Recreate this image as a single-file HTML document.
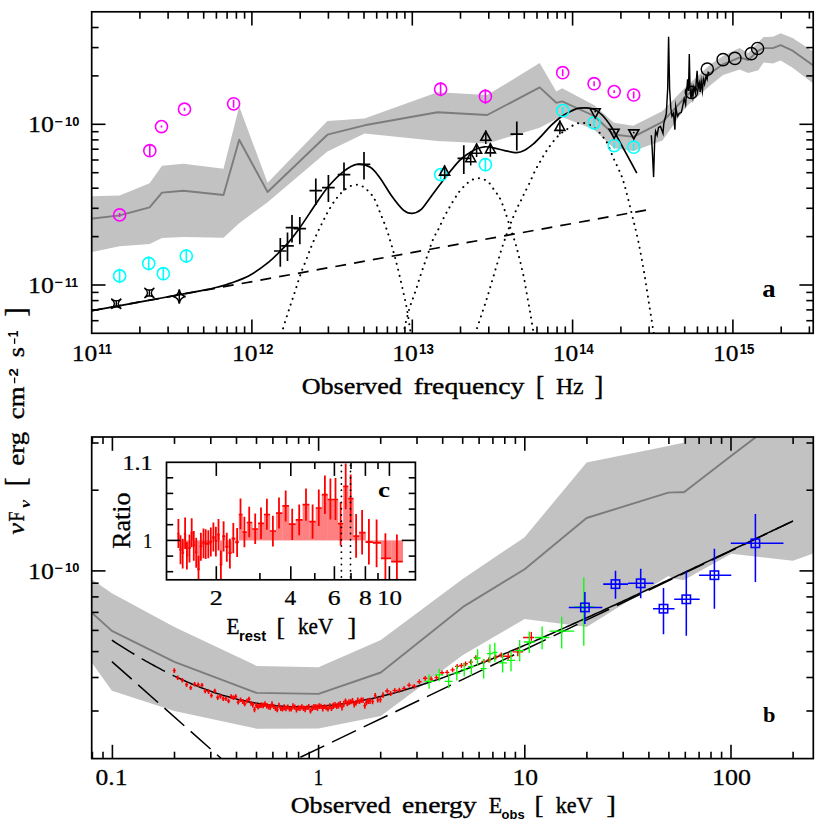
<!DOCTYPE html><html><head><meta charset="utf-8"><style>html,body{margin:0;padding:0;background:#fff}svg{display:block}</style></head><body><svg width="830" height="821" viewBox="0 0 830 821">
<rect width="830" height="821" fill="#fff"/>
<clipPath id="ct"><rect x="91.7" y="11.8" width="721.5" height="321.5"/></clipPath>
<g clip-path="url(#ct)">
<polygon points="90.0,196.4 119.6,195.4 149.6,183.3 162.0,165.8 183.5,163.8 223.5,168.7 239.2,106.5 267.6,182.8 327.4,121.0 364.5,118.5 437.5,92.2 487.2,95.1 539.7,63.0 556.3,91.6 562.2,88.3 594.3,105.3 613.8,122.8 633.3,125.8 662.5,111.1 685.9,86.8 710.7,64.3 723.0,56.0 739.7,48.1 748.2,53.3 758.4,42.2 763.6,37.1 772.9,36.7 780.6,33.3 792.6,37.9 814.0,52.0 814.0,84.0 792.6,67.8 780.6,60.6 772.9,63.5 763.6,62.6 758.4,70.3 748.2,72.9 739.7,69.5 723.0,75.0 710.7,85.0 685.9,107.0 662.5,140.4 633.3,151.1 613.8,148.2 594.3,129.7 562.2,117.0 556.3,118.9 539.7,127.7 487.2,143.4 437.5,140.9 364.5,133.5 327.4,151.6 267.6,202.3 239.2,223.2 223.5,237.7 183.5,236.9 162.0,238.1 149.6,243.9 119.6,246.3 90.0,252.5" fill="#c2c2c2" stroke="none" stroke-width="0"/>
<polyline points="90.0,218.8 119.6,215.4 149.6,207.3 162.0,192.6 183.5,190.7 223.5,195.0 239.2,139.7 267.6,192.0 327.4,134.7 364.5,125.3 437.5,112.2 487.2,115.0 539.7,87.4 556.3,102.8 562.2,101.4 594.3,116.0 613.8,134.5 633.3,136.9 662.5,121.9 685.9,96.5 710.7,72.9 723.0,64.3 739.7,57.5 748.2,60.0 758.4,50.7 763.6,48.1 772.9,48.1 780.6,45.2 792.6,50.7 814.0,66.0" fill="none" stroke="#7c7c7c" stroke-width="1.9" stroke-linejoin="round"/>
<path d="M281.5,334.0 C281.9,332.8 282.3,330.8 283.6,326.6 C284.9,322.4 287.4,314.5 289.3,308.6 C291.2,302.8 293.1,297.4 295.0,291.5 C296.9,285.6 298.7,279.4 300.8,273.5 C302.9,267.6 305.9,260.8 307.7,256.0 C309.5,251.2 310.4,248.7 311.9,245.0 C313.4,241.3 315.1,237.7 316.8,234.0 C318.5,230.3 320.4,226.6 322.2,222.9 C324.0,219.2 325.8,215.6 327.8,212.0 C329.8,208.4 332.4,204.1 334.1,201.5 C335.8,198.9 336.7,198.2 338.0,196.6 C339.3,195.0 340.6,193.5 342.1,192.1 C343.6,190.7 345.1,189.3 346.8,188.2 C348.5,187.1 350.2,186.1 352.1,185.5 C354.0,184.9 356.1,184.5 358.0,184.7 C359.9,184.9 361.7,185.8 363.4,186.9 C365.1,188.0 366.7,189.6 368.2,191.1 C369.7,192.6 371.4,194.3 372.6,196.0 C373.8,197.7 374.2,198.3 375.5,201.1 C376.8,203.9 378.4,208.3 380.2,212.8 C382.0,217.3 384.3,222.8 386.2,228.1 C388.1,233.3 389.7,239.0 391.3,244.3 C392.9,249.6 394.2,254.3 395.6,259.7 C397.0,265.1 398.4,270.7 399.8,276.7 C401.2,282.7 402.8,289.5 404.1,295.5 C405.4,301.5 406.5,306.8 407.5,312.5 C408.5,318.2 409.6,325.9 410.1,329.6 C410.7,333.4 410.7,334.1 410.8,335.0" fill="none" stroke="#000" stroke-width="2.0" stroke-dasharray="0.1 6.05" stroke-linecap="round"/>
<path d="M403.2,334.0 C403.4,333.3 403.1,333.8 404.1,329.6 C405.1,325.5 407.4,315.4 409.2,309.1 C411.0,302.9 413.2,298.1 415.2,292.1 C417.2,286.1 419.2,279.3 421.2,273.3 C423.2,267.3 425.1,262.0 427.1,256.3 C429.1,250.6 431.2,243.8 433.1,239.2 C435.1,234.5 437.0,232.1 438.8,228.4 C440.6,224.7 442.3,220.6 444.2,216.9 C446.1,213.2 448.0,209.8 450.1,206.2 C452.2,202.6 454.9,198.1 456.6,195.5 C458.3,192.9 458.8,192.2 460.1,190.6 C461.4,189.0 462.7,187.7 464.2,186.2 C465.7,184.7 467.4,183.0 469.1,181.8 C470.8,180.6 472.5,179.5 474.4,178.9 C476.2,178.3 478.3,178.1 480.2,178.3 C482.1,178.6 484.3,179.4 486.0,180.4 C487.7,181.4 489.0,182.7 490.4,184.3 C491.8,185.9 493.0,188.3 494.3,190.2 C495.6,192.1 497.1,193.9 498.2,195.5 C499.3,197.1 499.6,197.4 500.7,200.0 C501.8,202.6 503.4,206.5 505.0,211.1 C506.6,215.7 508.4,222.1 510.1,227.3 C511.8,232.6 513.6,237.3 515.2,242.6 C516.8,247.8 518.1,253.1 519.5,258.8 C520.9,264.5 522.4,270.6 523.7,276.7 C525.0,282.8 526.0,289.2 527.1,295.5 C528.2,301.8 529.5,308.5 530.5,314.3 C531.5,320.1 532.6,327.1 533.1,330.5 C533.6,333.9 533.6,334.2 533.7,335.0" fill="none" stroke="#000" stroke-width="2.0" stroke-dasharray="0.1 6.05" stroke-linecap="round"/>
<path d="M475.2,334.0 C475.3,333.6 475.0,334.3 476.0,331.3 C477.0,328.3 479.4,321.1 481.1,316.0 C482.8,310.9 484.5,306.0 486.2,300.6 C487.9,295.2 489.6,289.3 491.3,283.6 C493.0,277.9 494.7,272.2 496.4,266.5 C498.1,260.8 499.8,254.9 501.5,249.5 C503.2,244.1 505.0,238.9 506.7,234.1 C508.4,229.3 510.1,224.8 511.8,220.5 C513.5,216.2 515.3,211.9 516.9,208.5 C518.5,205.1 519.9,202.6 521.2,200.0 C522.5,197.4 523.2,195.6 524.6,192.8 C526.0,190.0 527.8,186.8 529.5,183.1 C531.2,179.4 533.1,174.8 535.0,170.9 C536.9,167.0 539.0,163.6 541.1,159.9 C543.2,156.2 545.5,152.4 547.8,149.0 C550.1,145.6 552.8,141.9 555.1,139.2 C557.4,136.5 559.3,134.8 561.5,133.0 C563.7,131.2 566.3,129.7 568.5,128.3 C570.7,126.9 572.4,125.5 574.6,124.6 C576.8,123.7 579.3,122.7 581.9,122.8 C584.5,122.9 587.4,123.7 590.0,125.0 C592.6,126.3 595.4,128.5 597.7,130.7 C600.0,132.9 602.2,135.9 603.8,138.0 C605.4,140.1 605.7,140.0 607.4,143.5 C609.1,147.0 611.9,154.5 613.8,158.9 C615.7,163.3 617.3,166.0 619.0,170.0 C620.7,174.0 621.8,175.7 623.9,182.9 C626.0,190.1 629.2,203.2 631.6,213.1 C634.0,223.0 636.4,232.3 638.5,242.4 C640.6,252.5 642.5,263.1 644.3,273.5 C646.1,283.9 647.7,295.4 649.2,304.7 C650.7,314.0 652.3,324.1 653.1,329.1 C653.9,334.2 653.9,334.0 654.0,335.0" fill="none" stroke="#000" stroke-width="2.0" stroke-dasharray="0.1 6.05" stroke-linecap="round"/>
<line x1="91.7" y1="310.7" x2="647.8" y2="209.8" stroke="#000" stroke-width="1.7" stroke-dasharray="10.9 8.15"/>
<path d="M90.0,311.0 C95.0,310.1 110.0,307.4 120.0,305.6 C130.0,303.7 140.0,301.9 150.0,300.1 C160.0,298.3 170.8,296.4 180.0,294.7 C189.2,293.0 198.7,291.2 205.0,289.9 C211.3,288.6 213.8,288.1 218.0,287.0 C222.2,285.9 224.8,285.3 230.0,283.4 C235.2,281.5 243.0,279.1 249.5,275.5 C256.0,271.9 263.9,266.0 269.0,261.9 C274.1,257.8 277.1,254.3 280.3,251.1 C283.6,247.8 285.2,246.3 288.5,242.4 C291.8,238.5 295.2,234.1 299.8,227.7 C304.4,221.3 311.0,210.9 315.8,204.0 C320.6,197.1 323.7,192.0 328.4,186.5 C333.1,181.0 339.3,174.8 344.0,171.1 C348.7,167.4 352.3,165.0 356.7,164.3 C361.1,163.7 366.4,164.9 370.3,167.2 C374.2,169.5 376.4,173.1 380.0,177.9 C383.6,182.7 387.8,190.6 391.7,196.0 C395.6,201.4 400.0,207.2 403.4,210.1 C406.8,213.0 409.3,213.5 412.2,213.4 C415.1,213.3 417.9,212.3 420.9,209.7 C423.9,207.1 426.1,203.2 430.0,198.0 C433.9,192.8 439.7,184.7 444.6,178.5 C449.5,172.3 455.1,165.1 459.2,160.9 C463.3,156.7 466.1,155.1 469.0,153.1 C471.9,151.1 474.2,149.9 476.8,148.8 C479.4,147.8 481.8,147.0 484.6,146.8 C487.4,146.6 490.0,147.2 493.4,147.8 C496.8,148.4 500.8,149.8 504.7,150.6 C508.6,151.4 513.4,152.7 516.7,152.6 C520.0,152.5 521.9,151.6 524.6,150.2 C527.3,148.8 530.2,146.5 533.1,144.1 C536.0,141.7 538.7,138.8 541.7,135.6 C544.8,132.4 548.1,128.3 551.4,125.2 C554.6,122.1 558.0,119.0 561.2,116.7 C564.5,114.4 567.9,112.6 570.9,111.2 C573.9,109.8 575.6,108.6 579.2,108.2 C582.8,107.8 588.8,107.7 592.6,108.8 C596.4,109.9 598.9,111.8 602.1,115.0 C605.3,118.2 608.6,122.7 611.9,127.7 C615.1,132.7 618.4,139.3 621.6,145.2 C624.8,151.0 628.8,158.2 631.3,162.8 C633.8,167.5 635.9,171.4 636.8,173.1" fill="none" stroke="#000" stroke-width="1.7" />
<polyline points="651.3,135.2 652.1,146.9 653.6,177.1 654.6,143.0 655.6,131.3 657.1,135.2 658.5,127.4 660.5,126.5 663.0,133.3 663.8,123.5 666.3,113.8 667.7,88.5 668.6,36.8 669.6,88.5 670.8,108.0 672.0,116.2 673.5,113.3 674.9,129.8 675.7,106.5 677.4,116.2 679.3,113.3 681.3,112.3 682.2,108.4 684.2,98.7 685.6,104.5 686.6,92.8 687.6,79.2 688.5,90.9 689.3,53.9 690.0,87.0 691.0,98.7 692.0,89.0 692.9,96.7 693.9,87.0 695.4,92.8 697.1,70.9 698.1,89.0 699.3,83.1 700.2,91.9 701.2,81.2 702.4,90.9 703.4,79.2 704.6,84.1 706.1,75.8 707.1,79.2 708.2,72.4 709.5,73.4" fill="none" stroke="#000" stroke-width="1.45" stroke-linejoin="miter" stroke-miterlimit="10"/>
<circle cx="119.6" cy="214.9" r="6.05" fill="none" stroke="#ff00ff" stroke-width="1.6"/>
<line x1="119.6" y1="212.9" x2="119.6" y2="216.9" stroke="#ff00ff" stroke-width="1.6" />
<circle cx="149.8" cy="150.7" r="6.05" fill="none" stroke="#ff00ff" stroke-width="1.6"/>
<line x1="149.8" y1="144.5" x2="149.8" y2="156.9" stroke="#ff00ff" stroke-width="1.6" />
<circle cx="161.5" cy="126.6" r="6.05" fill="none" stroke="#ff00ff" stroke-width="1.6"/>
<line x1="161.5" y1="125.6" x2="161.5" y2="127.6" stroke="#ff00ff" stroke-width="1.6" />
<circle cx="184.5" cy="109.2" r="6.05" fill="none" stroke="#ff00ff" stroke-width="1.6"/>
<line x1="184.5" y1="107.7" x2="184.5" y2="110.7" stroke="#ff00ff" stroke-width="1.6" />
<circle cx="233.6" cy="103.8" r="6.05" fill="none" stroke="#ff00ff" stroke-width="1.6"/>
<line x1="233.6" y1="99.8" x2="233.6" y2="107.8" stroke="#ff00ff" stroke-width="1.6" />
<circle cx="440.6" cy="89.2" r="6.05" fill="none" stroke="#ff00ff" stroke-width="1.6"/>
<line x1="440.6" y1="82.2" x2="440.6" y2="96.2" stroke="#ff00ff" stroke-width="1.6" />
<circle cx="485.4" cy="96.4" r="6.05" fill="none" stroke="#ff00ff" stroke-width="1.6"/>
<line x1="485.4" y1="88.9" x2="485.4" y2="103.9" stroke="#ff00ff" stroke-width="1.6" />
<circle cx="562.7" cy="72.7" r="6.05" fill="none" stroke="#ff00ff" stroke-width="1.6"/>
<line x1="562.7" y1="69.2" x2="562.7" y2="76.2" stroke="#ff00ff" stroke-width="1.6" />
<circle cx="594.1" cy="83.7" r="6.05" fill="none" stroke="#ff00ff" stroke-width="1.6"/>
<line x1="594.1" y1="81.2" x2="594.1" y2="86.2" stroke="#ff00ff" stroke-width="1.6" />
<circle cx="614.2" cy="91.6" r="6.05" fill="none" stroke="#ff00ff" stroke-width="1.6"/>
<line x1="614.2" y1="90.3" x2="614.2" y2="92.9" stroke="#ff00ff" stroke-width="1.6" />
<circle cx="633.7" cy="95.0" r="6.05" fill="none" stroke="#ff00ff" stroke-width="1.6"/>
<line x1="633.7" y1="91.5" x2="633.7" y2="98.5" stroke="#ff00ff" stroke-width="1.6" />
<circle cx="119.6" cy="275.9" r="6.05" fill="none" stroke="#00ffff" stroke-width="1.6"/>
<line x1="119.6" y1="268.6" x2="119.6" y2="283.2" stroke="#00ffff" stroke-width="1.6" />
<circle cx="148.7" cy="263.4" r="6.05" fill="none" stroke="#00ffff" stroke-width="1.6"/>
<line x1="148.7" y1="256.4" x2="148.7" y2="270.4" stroke="#00ffff" stroke-width="1.6" />
<circle cx="163.3" cy="273.7" r="6.05" fill="none" stroke="#00ffff" stroke-width="1.6"/>
<line x1="163.3" y1="267.2" x2="163.3" y2="280.2" stroke="#00ffff" stroke-width="1.6" />
<circle cx="186.3" cy="256.0" r="6.05" fill="none" stroke="#00ffff" stroke-width="1.6"/>
<line x1="186.3" y1="249.0" x2="186.3" y2="263.0" stroke="#00ffff" stroke-width="1.6" />
<circle cx="440.7" cy="174.6" r="6.05" fill="none" stroke="#00ffff" stroke-width="1.6"/>
<line x1="440.7" y1="169.6" x2="440.7" y2="179.6" stroke="#00ffff" stroke-width="1.6" />
<circle cx="485.4" cy="164.7" r="6.05" fill="none" stroke="#00ffff" stroke-width="1.6"/>
<line x1="485.4" y1="158.2" x2="485.4" y2="171.2" stroke="#00ffff" stroke-width="1.6" />
<circle cx="562.7" cy="110.6" r="6.05" fill="none" stroke="#00ffff" stroke-width="1.6"/>
<line x1="562.7" y1="107.1" x2="562.7" y2="114.1" stroke="#00ffff" stroke-width="1.6" />
<circle cx="594.1" cy="122.8" r="6.05" fill="none" stroke="#00ffff" stroke-width="1.6"/>
<line x1="594.1" y1="118.8" x2="594.1" y2="126.8" stroke="#00ffff" stroke-width="1.6" />
<circle cx="614.2" cy="145.6" r="6.05" fill="none" stroke="#00ffff" stroke-width="1.6"/>
<line x1="614.2" y1="142.6" x2="614.2" y2="148.6" stroke="#00ffff" stroke-width="1.6" />
<circle cx="633.7" cy="147.2" r="6.05" fill="none" stroke="#00ffff" stroke-width="1.6"/>
<line x1="633.7" y1="143.7" x2="633.7" y2="150.7" stroke="#00ffff" stroke-width="1.6" />
<line x1="274.0" y1="251.0" x2="286.6" y2="251.0" stroke="#000" stroke-width="1.7" />
<line x1="280.3" y1="238.1" x2="280.3" y2="266.7" stroke="#000" stroke-width="1.7" />
<line x1="281.2" y1="245.8" x2="293.8" y2="245.8" stroke="#000" stroke-width="1.7" />
<line x1="287.5" y1="232.6" x2="287.5" y2="260.9" stroke="#000" stroke-width="1.7" />
<line x1="285.7" y1="227.7" x2="298.3" y2="227.7" stroke="#000" stroke-width="1.7" />
<line x1="292.0" y1="215.1" x2="292.0" y2="242.4" stroke="#000" stroke-width="1.7" />
<line x1="293.5" y1="228.6" x2="306.1" y2="228.6" stroke="#000" stroke-width="1.7" />
<line x1="299.8" y1="217.0" x2="299.8" y2="244.3" stroke="#000" stroke-width="1.7" />
<line x1="309.5" y1="190.6" x2="322.1" y2="190.6" stroke="#000" stroke-width="1.7" />
<line x1="315.8" y1="178.5" x2="315.8" y2="205.0" stroke="#000" stroke-width="1.7" />
<line x1="322.1" y1="187.7" x2="334.7" y2="187.7" stroke="#000" stroke-width="1.7" />
<line x1="328.4" y1="175.0" x2="328.4" y2="202.0" stroke="#000" stroke-width="1.7" />
<line x1="337.7" y1="174.6" x2="350.3" y2="174.6" stroke="#000" stroke-width="1.7" />
<line x1="344.0" y1="162.4" x2="344.0" y2="190.6" stroke="#000" stroke-width="1.7" />
<line x1="357.7" y1="164.3" x2="370.3" y2="164.3" stroke="#000" stroke-width="1.7" />
<line x1="364.0" y1="152.0" x2="364.0" y2="179.5" stroke="#000" stroke-width="1.7" />
<line x1="457.5" y1="158.4" x2="470.1" y2="158.4" stroke="#000" stroke-width="1.7" />
<line x1="463.8" y1="145.2" x2="463.8" y2="174.0" stroke="#000" stroke-width="1.7" />
<line x1="510.5" y1="134.1" x2="523.1" y2="134.1" stroke="#000" stroke-width="1.7" />
<line x1="516.8" y1="121.4" x2="516.8" y2="150.6" stroke="#000" stroke-width="1.7" />
<polygon points="439.6,175.1 449.6,175.1 444.6,166.1" fill="none" stroke="#000" stroke-width="1.6"/>
<line x1="444.6" y1="165.3" x2="444.6" y2="178.9" stroke="#000" stroke-width="1.5" />
<polygon points="465.7,161.7 475.7,161.7 470.7,152.7" fill="none" stroke="#000" stroke-width="1.6"/>
<line x1="470.7" y1="151.9" x2="470.7" y2="165.5" stroke="#000" stroke-width="1.5" />
<polygon points="471.6,153.2 481.6,153.2 476.6,144.2" fill="none" stroke="#000" stroke-width="1.6"/>
<line x1="476.6" y1="143.4" x2="476.6" y2="157.0" stroke="#000" stroke-width="1.5" />
<polygon points="480.8,140.3 490.8,140.3 485.8,131.3" fill="none" stroke="#000" stroke-width="1.6"/>
<line x1="485.8" y1="130.5" x2="485.8" y2="144.1" stroke="#000" stroke-width="1.5" />
<polygon points="485.4,152.9 495.4,152.9 490.4,143.9" fill="none" stroke="#000" stroke-width="1.6"/>
<line x1="490.4" y1="143.1" x2="490.4" y2="156.7" stroke="#000" stroke-width="1.5" />
<polygon points="554.9,130.4 564.9,130.4 559.9,121.4" fill="none" stroke="#000" stroke-width="1.6"/>
<line x1="559.9" y1="120.6" x2="559.9" y2="134.2" stroke="#000" stroke-width="1.5" />
<polygon points="590.2,108.8 600.2,108.8 595.2,117.9" fill="none" stroke="#000" stroke-width="1.6"/>
<circle cx="595.2" cy="111.60000000000001" r="0.9" fill="#000"/>
<polygon points="609.1,129.2 619.1,129.2 614.1,138.3" fill="none" stroke="#000" stroke-width="1.6"/>
<circle cx="614.1" cy="132.0" r="0.9" fill="#000"/>
<polygon points="628.8,129.9 638.8,129.9 633.8,139.0" fill="none" stroke="#000" stroke-width="1.6"/>
<circle cx="633.8" cy="132.7" r="0.9" fill="#000"/>
<path d="M111.3,298.8 Q116.3,303.2 121.3,298.8 Q115.1,303.8 121.3,308.8 Q116.3,304.40000000000003 111.3,308.8 Q117.5,303.8 111.3,298.8Z" fill="none" stroke="#000" stroke-width="1.5" stroke-linejoin="bevel"/>
<line x1="116.3" y1="300.6" x2="116.3" y2="307.0" stroke="#000" stroke-width="1.4" />
<path d="M144.4,288.0 Q149.4,292.4 154.4,288.0 Q148.20000000000002,293 154.4,298.0 Q149.4,293.6 144.4,298.0 Q150.6,293 144.4,288.0Z" fill="none" stroke="#000" stroke-width="1.5" stroke-linejoin="bevel"/>
<line x1="149.4" y1="289.8" x2="149.4" y2="296.2" stroke="#000" stroke-width="1.4" />
<path d="M179.3,289.7 Q180.3,295.5 185.60000000000002,296.5 Q180.3,297.5 179.3,303.3 Q178.3,297.5 173.0,296.5 Q178.3,295.5 179.3,289.7Z" fill="none" stroke="#000" stroke-width="1.6"/>
<line x1="179.3" y1="289.5" x2="179.3" y2="303.5" stroke="#000" stroke-width="1.4" />
<circle cx="691.4" cy="92.4" r="6.1" fill="none" stroke="#000" stroke-width="1.4"/>
<circle cx="707.3" cy="69.1" r="6.1" fill="none" stroke="#000" stroke-width="1.4"/>
<circle cx="723.1" cy="59.6" r="6.1" fill="none" stroke="#000" stroke-width="1.4"/>
<circle cx="734.9" cy="58.4" r="6.1" fill="none" stroke="#000" stroke-width="1.4"/>
<circle cx="751.3" cy="53.6" r="6.1" fill="none" stroke="#000" stroke-width="1.4"/>
<circle cx="757.6" cy="48.5" r="6.1" fill="none" stroke="#000" stroke-width="1.4"/>
</g>
<rect x="91.7" y="11.8" width="721.5" height="321.5" fill="none" stroke="#000" stroke-width="1.7"/>
<line x1="139.9" y1="11.8" x2="139.9" y2="18.7" stroke="#000" stroke-width="1.6" />
<line x1="139.9" y1="333.3" x2="139.9" y2="326.4" stroke="#000" stroke-width="1.6" />
<line x1="168.1" y1="11.8" x2="168.1" y2="18.7" stroke="#000" stroke-width="1.6" />
<line x1="168.1" y1="333.3" x2="168.1" y2="326.4" stroke="#000" stroke-width="1.6" />
<line x1="188.1" y1="11.8" x2="188.1" y2="18.7" stroke="#000" stroke-width="1.6" />
<line x1="188.1" y1="333.3" x2="188.1" y2="326.4" stroke="#000" stroke-width="1.6" />
<line x1="203.7" y1="11.8" x2="203.7" y2="18.7" stroke="#000" stroke-width="1.6" />
<line x1="203.7" y1="333.3" x2="203.7" y2="326.4" stroke="#000" stroke-width="1.6" />
<line x1="216.4" y1="11.8" x2="216.4" y2="18.7" stroke="#000" stroke-width="1.6" />
<line x1="216.4" y1="333.3" x2="216.4" y2="326.4" stroke="#000" stroke-width="1.6" />
<line x1="227.1" y1="11.8" x2="227.1" y2="18.7" stroke="#000" stroke-width="1.6" />
<line x1="227.1" y1="333.3" x2="227.1" y2="326.4" stroke="#000" stroke-width="1.6" />
<line x1="236.4" y1="11.8" x2="236.4" y2="18.7" stroke="#000" stroke-width="1.6" />
<line x1="236.4" y1="333.3" x2="236.4" y2="326.4" stroke="#000" stroke-width="1.6" />
<line x1="244.6" y1="11.8" x2="244.6" y2="18.7" stroke="#000" stroke-width="1.6" />
<line x1="244.6" y1="333.3" x2="244.6" y2="326.4" stroke="#000" stroke-width="1.6" />
<line x1="251.9" y1="11.8" x2="251.9" y2="25.6" stroke="#000" stroke-width="1.6" />
<line x1="251.9" y1="333.3" x2="251.9" y2="319.5" stroke="#000" stroke-width="1.6" />
<line x1="300.2" y1="11.8" x2="300.2" y2="18.7" stroke="#000" stroke-width="1.6" />
<line x1="300.2" y1="333.3" x2="300.2" y2="326.4" stroke="#000" stroke-width="1.6" />
<line x1="328.4" y1="11.8" x2="328.4" y2="18.7" stroke="#000" stroke-width="1.6" />
<line x1="328.4" y1="333.3" x2="328.4" y2="326.4" stroke="#000" stroke-width="1.6" />
<line x1="348.5" y1="11.8" x2="348.5" y2="18.7" stroke="#000" stroke-width="1.6" />
<line x1="348.5" y1="333.3" x2="348.5" y2="326.4" stroke="#000" stroke-width="1.6" />
<line x1="364.0" y1="11.8" x2="364.0" y2="18.7" stroke="#000" stroke-width="1.6" />
<line x1="364.0" y1="333.3" x2="364.0" y2="326.4" stroke="#000" stroke-width="1.6" />
<line x1="376.7" y1="11.8" x2="376.7" y2="18.7" stroke="#000" stroke-width="1.6" />
<line x1="376.7" y1="333.3" x2="376.7" y2="326.4" stroke="#000" stroke-width="1.6" />
<line x1="387.4" y1="11.8" x2="387.4" y2="18.7" stroke="#000" stroke-width="1.6" />
<line x1="387.4" y1="333.3" x2="387.4" y2="326.4" stroke="#000" stroke-width="1.6" />
<line x1="396.7" y1="11.8" x2="396.7" y2="18.7" stroke="#000" stroke-width="1.6" />
<line x1="396.7" y1="333.3" x2="396.7" y2="326.4" stroke="#000" stroke-width="1.6" />
<line x1="404.9" y1="11.8" x2="404.9" y2="18.7" stroke="#000" stroke-width="1.6" />
<line x1="404.9" y1="333.3" x2="404.9" y2="326.4" stroke="#000" stroke-width="1.6" />
<line x1="412.3" y1="11.8" x2="412.3" y2="25.6" stroke="#000" stroke-width="1.6" />
<line x1="412.3" y1="333.3" x2="412.3" y2="319.5" stroke="#000" stroke-width="1.6" />
<line x1="460.5" y1="11.8" x2="460.5" y2="18.7" stroke="#000" stroke-width="1.6" />
<line x1="460.5" y1="333.3" x2="460.5" y2="326.4" stroke="#000" stroke-width="1.6" />
<line x1="488.8" y1="11.8" x2="488.8" y2="18.7" stroke="#000" stroke-width="1.6" />
<line x1="488.8" y1="333.3" x2="488.8" y2="326.4" stroke="#000" stroke-width="1.6" />
<line x1="508.8" y1="11.8" x2="508.8" y2="18.7" stroke="#000" stroke-width="1.6" />
<line x1="508.8" y1="333.3" x2="508.8" y2="326.4" stroke="#000" stroke-width="1.6" />
<line x1="524.3" y1="11.8" x2="524.3" y2="18.7" stroke="#000" stroke-width="1.6" />
<line x1="524.3" y1="333.3" x2="524.3" y2="326.4" stroke="#000" stroke-width="1.6" />
<line x1="537.0" y1="11.8" x2="537.0" y2="18.7" stroke="#000" stroke-width="1.6" />
<line x1="537.0" y1="333.3" x2="537.0" y2="326.4" stroke="#000" stroke-width="1.6" />
<line x1="547.8" y1="11.8" x2="547.8" y2="18.7" stroke="#000" stroke-width="1.6" />
<line x1="547.8" y1="333.3" x2="547.8" y2="326.4" stroke="#000" stroke-width="1.6" />
<line x1="557.1" y1="11.8" x2="557.1" y2="18.7" stroke="#000" stroke-width="1.6" />
<line x1="557.1" y1="333.3" x2="557.1" y2="326.4" stroke="#000" stroke-width="1.6" />
<line x1="565.3" y1="11.8" x2="565.3" y2="18.7" stroke="#000" stroke-width="1.6" />
<line x1="565.3" y1="333.3" x2="565.3" y2="326.4" stroke="#000" stroke-width="1.6" />
<line x1="572.6" y1="11.8" x2="572.6" y2="25.6" stroke="#000" stroke-width="1.6" />
<line x1="572.6" y1="333.3" x2="572.6" y2="319.5" stroke="#000" stroke-width="1.6" />
<line x1="620.9" y1="11.8" x2="620.9" y2="18.7" stroke="#000" stroke-width="1.6" />
<line x1="620.9" y1="333.3" x2="620.9" y2="326.4" stroke="#000" stroke-width="1.6" />
<line x1="649.1" y1="11.8" x2="649.1" y2="18.7" stroke="#000" stroke-width="1.6" />
<line x1="649.1" y1="333.3" x2="649.1" y2="326.4" stroke="#000" stroke-width="1.6" />
<line x1="669.1" y1="11.8" x2="669.1" y2="18.7" stroke="#000" stroke-width="1.6" />
<line x1="669.1" y1="333.3" x2="669.1" y2="326.4" stroke="#000" stroke-width="1.6" />
<line x1="684.7" y1="11.8" x2="684.7" y2="18.7" stroke="#000" stroke-width="1.6" />
<line x1="684.7" y1="333.3" x2="684.7" y2="326.4" stroke="#000" stroke-width="1.6" />
<line x1="697.4" y1="11.8" x2="697.4" y2="18.7" stroke="#000" stroke-width="1.6" />
<line x1="697.4" y1="333.3" x2="697.4" y2="326.4" stroke="#000" stroke-width="1.6" />
<line x1="708.1" y1="11.8" x2="708.1" y2="18.7" stroke="#000" stroke-width="1.6" />
<line x1="708.1" y1="333.3" x2="708.1" y2="326.4" stroke="#000" stroke-width="1.6" />
<line x1="717.4" y1="11.8" x2="717.4" y2="18.7" stroke="#000" stroke-width="1.6" />
<line x1="717.4" y1="333.3" x2="717.4" y2="326.4" stroke="#000" stroke-width="1.6" />
<line x1="725.6" y1="11.8" x2="725.6" y2="18.7" stroke="#000" stroke-width="1.6" />
<line x1="725.6" y1="333.3" x2="725.6" y2="326.4" stroke="#000" stroke-width="1.6" />
<line x1="732.9" y1="11.8" x2="732.9" y2="25.6" stroke="#000" stroke-width="1.6" />
<line x1="732.9" y1="333.3" x2="732.9" y2="319.5" stroke="#000" stroke-width="1.6" />
<line x1="781.2" y1="11.8" x2="781.2" y2="18.7" stroke="#000" stroke-width="1.6" />
<line x1="781.2" y1="333.3" x2="781.2" y2="326.4" stroke="#000" stroke-width="1.6" />
<line x1="809.4" y1="11.8" x2="809.4" y2="18.7" stroke="#000" stroke-width="1.6" />
<line x1="809.4" y1="333.3" x2="809.4" y2="326.4" stroke="#000" stroke-width="1.6" />
<line x1="91.7" y1="320.7" x2="98.6" y2="320.7" stroke="#000" stroke-width="1.6" />
<line x1="813.2" y1="320.7" x2="806.3" y2="320.7" stroke="#000" stroke-width="1.6" />
<line x1="91.7" y1="309.9" x2="98.6" y2="309.9" stroke="#000" stroke-width="1.6" />
<line x1="813.2" y1="309.9" x2="806.3" y2="309.9" stroke="#000" stroke-width="1.6" />
<line x1="91.7" y1="300.6" x2="98.6" y2="300.6" stroke="#000" stroke-width="1.6" />
<line x1="813.2" y1="300.6" x2="806.3" y2="300.6" stroke="#000" stroke-width="1.6" />
<line x1="91.7" y1="292.4" x2="98.6" y2="292.4" stroke="#000" stroke-width="1.6" />
<line x1="813.2" y1="292.4" x2="806.3" y2="292.4" stroke="#000" stroke-width="1.6" />
<line x1="91.7" y1="285.0" x2="105.5" y2="285.0" stroke="#000" stroke-width="1.6" />
<line x1="813.2" y1="285.0" x2="799.4" y2="285.0" stroke="#000" stroke-width="1.6" />
<line x1="91.7" y1="236.6" x2="98.6" y2="236.6" stroke="#000" stroke-width="1.6" />
<line x1="813.2" y1="236.6" x2="806.3" y2="236.6" stroke="#000" stroke-width="1.6" />
<line x1="91.7" y1="208.3" x2="98.6" y2="208.3" stroke="#000" stroke-width="1.6" />
<line x1="813.2" y1="208.3" x2="806.3" y2="208.3" stroke="#000" stroke-width="1.6" />
<line x1="91.7" y1="188.2" x2="98.6" y2="188.2" stroke="#000" stroke-width="1.6" />
<line x1="813.2" y1="188.2" x2="806.3" y2="188.2" stroke="#000" stroke-width="1.6" />
<line x1="91.7" y1="172.7" x2="98.6" y2="172.7" stroke="#000" stroke-width="1.6" />
<line x1="813.2" y1="172.7" x2="806.3" y2="172.7" stroke="#000" stroke-width="1.6" />
<line x1="91.7" y1="160.0" x2="98.6" y2="160.0" stroke="#000" stroke-width="1.6" />
<line x1="813.2" y1="160.0" x2="806.3" y2="160.0" stroke="#000" stroke-width="1.6" />
<line x1="91.7" y1="149.2" x2="98.6" y2="149.2" stroke="#000" stroke-width="1.6" />
<line x1="813.2" y1="149.2" x2="806.3" y2="149.2" stroke="#000" stroke-width="1.6" />
<line x1="91.7" y1="139.9" x2="98.6" y2="139.9" stroke="#000" stroke-width="1.6" />
<line x1="813.2" y1="139.9" x2="806.3" y2="139.9" stroke="#000" stroke-width="1.6" />
<line x1="91.7" y1="131.7" x2="98.6" y2="131.7" stroke="#000" stroke-width="1.6" />
<line x1="813.2" y1="131.7" x2="806.3" y2="131.7" stroke="#000" stroke-width="1.6" />
<line x1="91.7" y1="124.3" x2="105.5" y2="124.3" stroke="#000" stroke-width="1.6" />
<line x1="813.2" y1="124.3" x2="799.4" y2="124.3" stroke="#000" stroke-width="1.6" />
<line x1="91.7" y1="75.9" x2="98.6" y2="75.9" stroke="#000" stroke-width="1.6" />
<line x1="813.2" y1="75.9" x2="806.3" y2="75.9" stroke="#000" stroke-width="1.6" />
<line x1="91.7" y1="47.6" x2="98.6" y2="47.6" stroke="#000" stroke-width="1.6" />
<line x1="813.2" y1="47.6" x2="806.3" y2="47.6" stroke="#000" stroke-width="1.6" />
<line x1="91.7" y1="27.5" x2="98.6" y2="27.5" stroke="#000" stroke-width="1.6" />
<line x1="813.2" y1="27.5" x2="806.3" y2="27.5" stroke="#000" stroke-width="1.6" />
<text transform="matrix(0.25517 0 0 0.23333 71.70 360.50)" font-family="Liberation Serif" font-size="100" font-weight="normal" font-style="normal" fill="#000" stroke="#000" stroke-width="1.2">10</text>
<text transform="matrix(0.12784 0 0 0.13913 98.33 353.80)" font-family="Liberation Sans" font-size="100" font-weight="bold" font-style="normal" fill="#000">11</text>
<text transform="matrix(0.25517 0 0 0.23333 232.03 360.50)" font-family="Liberation Serif" font-size="100" font-weight="normal" font-style="normal" fill="#000" stroke="#000" stroke-width="1.2">10</text>
<text transform="matrix(0.13366 0 0 0.13714 258.63 353.80)" font-family="Liberation Sans" font-size="100" font-weight="bold" font-style="normal" fill="#000">12</text>
<text transform="matrix(0.25517 0 0 0.23333 392.36 360.50)" font-family="Liberation Serif" font-size="100" font-weight="normal" font-style="normal" fill="#000" stroke="#000" stroke-width="1.2">10</text>
<text transform="matrix(0.13366 0 0 0.13714 418.96 353.80)" font-family="Liberation Sans" font-size="100" font-weight="bold" font-style="normal" fill="#000">13</text>
<text transform="matrix(0.25517 0 0 0.23333 552.69 360.50)" font-family="Liberation Serif" font-size="100" font-weight="normal" font-style="normal" fill="#000" stroke="#000" stroke-width="1.2">10</text>
<text transform="matrix(0.12857 0 0 0.13913 579.32 353.80)" font-family="Liberation Sans" font-size="100" font-weight="bold" font-style="normal" fill="#000">14</text>
<text transform="matrix(0.25517 0 0 0.23333 713.02 360.50)" font-family="Liberation Serif" font-size="100" font-weight="normal" font-style="normal" fill="#000" stroke="#000" stroke-width="1.2">10</text>
<text transform="matrix(0.13235 0 0 0.13913 739.63 353.80)" font-family="Liberation Sans" font-size="100" font-weight="bold" font-style="normal" fill="#000">15</text>
<text transform="matrix(0.25747 0 0 0.23333 28.08 132.30)" font-family="Liberation Serif" font-size="100" font-weight="normal" font-style="normal" fill="#000" stroke="#000" stroke-width="1.2">10</text>
<line x1="55.2" y1="121.7" x2="62.4" y2="121.7" stroke="#000" stroke-width="1.3"/>
<text transform="matrix(0.12871 0 0 0.13429 65.03 125.80)" font-family="Liberation Sans" font-size="100" font-weight="bold" font-style="normal" fill="#000">10</text>
<text transform="matrix(0.25747 0 0 0.23333 28.08 293.00)" font-family="Liberation Serif" font-size="100" font-weight="normal" font-style="normal" fill="#000" stroke="#000" stroke-width="1.2">10</text>
<line x1="55.2" y1="282.4" x2="62.4" y2="282.4" stroke="#000" stroke-width="1.3"/>
<text transform="matrix(0.12165 0 0 0.13623 65.07 286.50)" font-family="Liberation Sans" font-size="100" font-weight="bold" font-style="normal" fill="#000">11</text>
<text transform="matrix(0.26164 0 0 0.23538 301.65 394.00)" font-family="Liberation Serif" font-size="100" font-weight="normal" font-style="normal" fill="#000" stroke="#000" stroke-width="1.6">Observed</text>
<text transform="matrix(0.27702 0 0 0.23846 413.67 394.00)" font-family="Liberation Serif" font-size="100" font-weight="normal" font-style="normal" fill="#000" stroke="#000" stroke-width="1.6">frequency</text>
<text transform="matrix(0.24783 0 0 0.26585 535.97 395.04)" font-family="Liberation Serif" font-size="100" font-weight="normal" font-style="normal" fill="#000" stroke="#000" stroke-width="1.6">[</text>
<text transform="matrix(0.23784 0 0 0.23538 555.89 394.00)" font-family="Liberation Serif" font-size="100" font-weight="normal" font-style="normal" fill="#000" stroke="#000" stroke-width="1.6">Hz</text>
<text transform="matrix(0.26364 0 0 0.26585 594.45 395.04)" font-family="Liberation Serif" font-size="100" font-weight="normal" font-style="normal" fill="#000" stroke="#000" stroke-width="1.6">]</text>
<text transform="matrix(0.26667 0 0 0.24255 762.30 296.60)" font-family="Liberation Serif" font-size="100" font-weight="bold" font-style="normal" fill="#000">a</text>
<clipPath id="cb"><rect x="91.7" y="437.0" width="721.5999999999999" height="321.6"/></clipPath>
<g clip-path="url(#cb)">
<polygon points="90.0,578.0 111.9,593.2 174.4,627.1 256.6,665.9 318.5,667.2 380.8,640.0 463.0,578.7 524.6,537.2 586.6,462.5 668.3,445.9 673.7,444.8 683.5,442.8 684.0,400.0 731.3,400.0 792.9,400.0 815.0,395.0 815.0,553.0 792.9,560.8 731.3,553.8 684.0,580.0 683.5,580.0 673.7,578.7 668.3,576.0 586.6,627.0 524.6,618.9 463.0,655.0 380.8,716.0 318.5,728.6 256.6,728.7 174.4,710.9 111.9,690.7 90.0,660.0" fill="#c2c2c2" stroke="none" stroke-width="0"/>
<polyline points="90.0,611.0 111.9,630.9 174.4,661.8 256.6,692.9 318.5,693.9 380.8,672.5 463.0,606.9 524.6,569.3 586.6,518.0 668.3,492.6 673.7,492.4 683.5,492.3 684.0,492.3 731.3,455.8 792.9,409.0 815.0,393.0" fill="none" stroke="#7c7c7c" stroke-width="1.9" stroke-linejoin="round"/>
<line x1="111.9" y1="661.6" x2="240.0" y2="775.1" stroke="#000" stroke-width="1.5" stroke-dasharray="26.5 8.6"/>
<line x1="259.0" y1="777.1" x2="793.0" y2="521.1" stroke="#000" stroke-width="1.5" stroke-dasharray="26.5 8.6" stroke-dashoffset="24.3"/>
<polyline points="111.9,640.2 113.9,641.5 115.9,642.8 117.9,644.1 119.9,645.3 121.9,646.6 123.9,647.9 125.9,649.1 127.9,650.4 129.9,651.6 131.9,652.8 133.9,654.0 135.9,655.2 137.9,656.4 139.9,657.6 141.9,658.8 143.9,659.9 145.9,661.1 147.9,662.2 149.9,663.3 151.9,664.4 153.9,665.5 155.9,666.6 157.9,667.7 159.9,668.7 161.9,669.8 163.9,670.8 165.9,671.9 167.9,672.9 169.9,673.9 171.9,674.9 173.9,675.8 174.4,676.1" fill="none" stroke="#000" stroke-width="1.5" stroke-dasharray="26.5 8.6"/>
<polyline points="174.4,676.1 177.4,677.5 180.4,678.9 183.4,680.3 186.4,681.6 189.4,682.9 192.4,684.2 195.4,685.4 198.4,686.6 201.4,687.8 204.4,688.9 207.4,690.0 210.4,691.1 213.4,692.2 216.4,693.2 219.4,694.1 222.4,695.1 225.4,696.0 228.4,696.8 231.4,697.7 234.4,698.4 237.4,699.2 240.4,699.9 243.4,700.6 246.4,701.3 249.4,701.9 252.4,702.4 255.4,703.0 258.4,703.5 261.4,704.0 264.4,704.4 267.4,704.8 270.4,705.2 273.4,705.5 276.4,705.8 279.4,706.0 282.4,706.2 285.4,706.4 288.4,706.6 291.4,706.7 294.4,706.8 297.4,706.8 300.4,706.9 303.4,706.8 306.4,706.8 309.4,706.7 312.4,706.6 315.4,706.5 318.4,706.3 321.4,706.1 324.4,705.8 327.4,705.6 330.4,705.3 333.4,705.0 336.4,704.6 339.4,704.2 342.4,703.8 345.4,703.4 348.4,702.9 351.4,702.4 354.4,701.9 357.4,701.4 360.4,700.8 363.4,700.3 366.4,699.6 369.4,699.0 372.4,698.4 375.4,697.7 378.4,697.0 381.4,696.3 384.4,695.5 387.4,694.8 390.4,694.0 393.4,693.2 396.4,692.4 399.4,691.5 402.4,690.7 405.4,689.8 408.4,688.9 411.4,688.0 414.4,687.1 417.4,686.2 420.4,685.2 423.4,684.3 426.4,683.3 429.4,682.3 432.4,681.3 435.4,680.2 438.4,679.2 441.4,678.2 444.4,677.1 447.4,676.0 450.4,674.9 453.4,673.9 456.4,672.7 459.4,671.6 462.4,670.5 465.4,669.4 468.4,668.2 471.4,667.1 474.4,665.9 477.4,664.7 480.4,663.5 483.4,662.4 486.4,661.2 489.4,660.0 492.4,658.7 495.4,657.5 498.4,656.3 501.4,655.1 504.4,653.8 507.4,652.6 510.4,651.3 513.4,650.0 516.4,648.8 519.4,647.5 522.4,646.2 525.4,644.9 528.4,643.7 531.4,642.4 534.4,641.1 537.4,639.8 540.4,638.5 543.4,637.1 546.4,635.8 549.4,634.5 552.4,633.2 555.4,631.9 558.4,630.5 561.4,629.2 564.4,627.9 567.4,626.5 570.4,625.2 573.4,623.8 576.4,622.5 579.4,621.1 582.4,619.8 585.4,618.4 588.4,617.0 591.4,615.7 594.4,614.3 597.4,612.9 600.4,611.6 603.4,610.2 606.4,608.8 609.4,607.4 612.4,606.0 615.4,604.7 618.4,603.3 621.4,601.9 624.4,600.5 627.4,599.1 630.4,597.7 633.4,596.3 636.4,594.9 639.4,593.5 642.4,592.1 645.4,590.7 648.4,589.3 651.4,587.9 654.4,586.5 657.4,585.1 660.4,583.7 663.4,582.3 666.4,580.9 669.4,579.5 672.4,578.1 675.4,576.7 678.4,575.3 681.4,573.9 684.4,572.4 687.4,571.0 690.4,569.6 693.4,568.2 696.4,566.8 699.4,565.4 702.4,563.9 705.4,562.5 708.4,561.1 711.4,559.7 714.4,558.3 717.4,556.8 720.4,555.4 723.4,554.0 726.4,552.6 729.4,551.2 732.4,549.7 735.4,548.3 738.4,546.9 741.4,545.5 744.4,544.0 747.4,542.6 750.4,541.2 753.4,539.8 756.4,538.3 759.4,536.9 762.4,535.5 765.4,534.0 768.4,532.6 771.4,531.2 774.4,529.8 777.4,528.3 780.4,526.9 783.4,525.5 786.4,524.0 789.4,522.6 792.4,521.2 792.9,520.9" fill="none" stroke="#000" stroke-width="1.5" />
<line x1="174.3" y1="668.3" x2="174.3" y2="672.9" stroke="#ff0000" stroke-width="1.6" />
<line x1="172.8" y1="670.6" x2="175.8" y2="670.6" stroke="#ff0000" stroke-width="1.5" />
<line x1="177.7" y1="675.5" x2="177.7" y2="680.1" stroke="#ff0000" stroke-width="1.6" />
<line x1="176.2" y1="677.8" x2="179.2" y2="677.8" stroke="#ff0000" stroke-width="1.5" />
<line x1="182.3" y1="677.9" x2="182.3" y2="682.5" stroke="#ff0000" stroke-width="1.6" />
<line x1="180.8" y1="680.2" x2="183.8" y2="680.2" stroke="#ff0000" stroke-width="1.5" />
<line x1="186.6" y1="682.3" x2="186.6" y2="686.9" stroke="#ff0000" stroke-width="1.6" />
<line x1="185.1" y1="684.6" x2="188.1" y2="684.6" stroke="#ff0000" stroke-width="1.5" />
<line x1="190.7" y1="685.5" x2="190.7" y2="690.1" stroke="#ff0000" stroke-width="1.6" />
<line x1="189.2" y1="687.8" x2="192.2" y2="687.8" stroke="#ff0000" stroke-width="1.5" />
<line x1="194.6" y1="682.0" x2="194.6" y2="686.6" stroke="#ff0000" stroke-width="1.6" />
<line x1="193.1" y1="684.3" x2="196.1" y2="684.3" stroke="#ff0000" stroke-width="1.5" />
<line x1="198.2" y1="682.5" x2="198.2" y2="687.1" stroke="#ff0000" stroke-width="1.6" />
<line x1="196.7" y1="684.8" x2="199.7" y2="684.8" stroke="#ff0000" stroke-width="1.5" />
<line x1="202.0" y1="683.0" x2="202.0" y2="687.6" stroke="#ff0000" stroke-width="1.6" />
<line x1="200.5" y1="685.3" x2="203.5" y2="685.3" stroke="#ff0000" stroke-width="1.5" />
<line x1="205.2" y1="688.7" x2="205.2" y2="693.3" stroke="#ff0000" stroke-width="1.6" />
<line x1="203.7" y1="691.0" x2="206.7" y2="691.0" stroke="#ff0000" stroke-width="1.5" />
<line x1="208.6" y1="689.3" x2="208.6" y2="693.9" stroke="#ff0000" stroke-width="1.6" />
<line x1="207.1" y1="691.6" x2="210.1" y2="691.6" stroke="#ff0000" stroke-width="1.5" />
<line x1="211.4" y1="693.2" x2="211.4" y2="697.8" stroke="#ff0000" stroke-width="1.6" />
<line x1="209.9" y1="695.5" x2="212.9" y2="695.5" stroke="#ff0000" stroke-width="1.5" />
<line x1="214.8" y1="688.7" x2="214.8" y2="693.3" stroke="#ff0000" stroke-width="1.6" />
<line x1="213.3" y1="691.0" x2="216.3" y2="691.0" stroke="#ff0000" stroke-width="1.5" />
<line x1="217.7" y1="695.3" x2="217.7" y2="699.9" stroke="#ff0000" stroke-width="1.6" />
<line x1="216.2" y1="697.6" x2="219.2" y2="697.6" stroke="#ff0000" stroke-width="1.5" />
<line x1="220.4" y1="693.8" x2="220.4" y2="698.4" stroke="#ff0000" stroke-width="1.6" />
<line x1="218.9" y1="696.1" x2="221.9" y2="696.1" stroke="#ff0000" stroke-width="1.5" />
<line x1="223.2" y1="696.3" x2="223.2" y2="700.9" stroke="#ff0000" stroke-width="1.6" />
<line x1="221.7" y1="698.6" x2="224.7" y2="698.6" stroke="#ff0000" stroke-width="1.5" />
<line x1="225.9" y1="696.4" x2="225.9" y2="701.0" stroke="#ff0000" stroke-width="1.6" />
<line x1="224.4" y1="698.7" x2="227.4" y2="698.7" stroke="#ff0000" stroke-width="1.5" />
<line x1="228.6" y1="698.7" x2="228.6" y2="703.3" stroke="#ff0000" stroke-width="1.6" />
<line x1="227.1" y1="701.0" x2="230.1" y2="701.0" stroke="#ff0000" stroke-width="1.5" />
<line x1="231.2" y1="694.3" x2="231.2" y2="698.9" stroke="#ff0000" stroke-width="1.6" />
<line x1="229.7" y1="696.6" x2="232.7" y2="696.6" stroke="#ff0000" stroke-width="1.5" />
<line x1="233.4" y1="695.5" x2="233.4" y2="700.1" stroke="#ff0000" stroke-width="1.6" />
<line x1="231.9" y1="697.8" x2="234.9" y2="697.8" stroke="#ff0000" stroke-width="1.5" />
<line x1="235.7" y1="694.3" x2="235.7" y2="698.9" stroke="#ff0000" stroke-width="1.6" />
<line x1="234.2" y1="696.6" x2="237.2" y2="696.6" stroke="#ff0000" stroke-width="1.5" />
<line x1="238.2" y1="699.9" x2="238.2" y2="704.5" stroke="#ff0000" stroke-width="1.6" />
<line x1="236.7" y1="702.2" x2="239.7" y2="702.2" stroke="#ff0000" stroke-width="1.5" />
<line x1="240.6" y1="697.4" x2="240.6" y2="702.0" stroke="#ff0000" stroke-width="1.6" />
<line x1="239.1" y1="699.7" x2="242.1" y2="699.7" stroke="#ff0000" stroke-width="1.5" />
<line x1="242.8" y1="699.3" x2="242.8" y2="703.9" stroke="#ff0000" stroke-width="1.6" />
<line x1="241.3" y1="701.6" x2="244.3" y2="701.6" stroke="#ff0000" stroke-width="1.5" />
<line x1="244.7" y1="701.6" x2="244.7" y2="706.2" stroke="#ff0000" stroke-width="1.6" />
<line x1="243.2" y1="703.9" x2="246.2" y2="703.9" stroke="#ff0000" stroke-width="1.5" />
<line x1="246.9" y1="698.7" x2="246.9" y2="703.3" stroke="#ff0000" stroke-width="1.6" />
<line x1="245.4" y1="701.0" x2="248.4" y2="701.0" stroke="#ff0000" stroke-width="1.5" />
<line x1="249.0" y1="696.7" x2="249.0" y2="701.3" stroke="#ff0000" stroke-width="1.6" />
<line x1="247.5" y1="699.0" x2="250.5" y2="699.0" stroke="#ff0000" stroke-width="1.5" />
<line x1="251.0" y1="700.9" x2="251.0" y2="705.7" stroke="#ff0000" stroke-width="1.6" />
<line x1="249.7" y1="703.3" x2="252.3" y2="703.3" stroke="#ff0000" stroke-width="1.5" />
<line x1="252.8" y1="702.2" x2="252.8" y2="707.4" stroke="#ff0000" stroke-width="1.6" />
<line x1="251.4" y1="704.8" x2="254.1" y2="704.8" stroke="#ff0000" stroke-width="1.5" />
<line x1="254.5" y1="706.8" x2="254.5" y2="712.2" stroke="#ff0000" stroke-width="1.6" />
<line x1="253.2" y1="709.5" x2="255.8" y2="709.5" stroke="#ff0000" stroke-width="1.5" />
<line x1="256.2" y1="702.5" x2="256.2" y2="708.1" stroke="#ff0000" stroke-width="1.6" />
<line x1="254.9" y1="705.3" x2="257.6" y2="705.3" stroke="#ff0000" stroke-width="1.5" />
<line x1="258.0" y1="703.9" x2="258.0" y2="709.6" stroke="#ff0000" stroke-width="1.6" />
<line x1="256.7" y1="706.7" x2="259.3" y2="706.7" stroke="#ff0000" stroke-width="1.5" />
<line x1="259.8" y1="703.6" x2="259.8" y2="708.3" stroke="#ff0000" stroke-width="1.6" />
<line x1="258.4" y1="705.9" x2="261.1" y2="705.9" stroke="#ff0000" stroke-width="1.5" />
<line x1="261.5" y1="702.3" x2="261.5" y2="707.9" stroke="#ff0000" stroke-width="1.6" />
<line x1="260.2" y1="705.1" x2="262.8" y2="705.1" stroke="#ff0000" stroke-width="1.5" />
<line x1="263.2" y1="702.8" x2="263.2" y2="708.2" stroke="#ff0000" stroke-width="1.6" />
<line x1="261.9" y1="705.5" x2="264.6" y2="705.5" stroke="#ff0000" stroke-width="1.5" />
<line x1="265.0" y1="701.2" x2="265.0" y2="707.0" stroke="#ff0000" stroke-width="1.6" />
<line x1="263.7" y1="704.1" x2="266.3" y2="704.1" stroke="#ff0000" stroke-width="1.5" />
<line x1="266.8" y1="702.9" x2="266.8" y2="708.5" stroke="#ff0000" stroke-width="1.6" />
<line x1="265.4" y1="705.7" x2="268.1" y2="705.7" stroke="#ff0000" stroke-width="1.5" />
<line x1="268.5" y1="703.9" x2="268.5" y2="709.5" stroke="#ff0000" stroke-width="1.6" />
<line x1="267.2" y1="706.7" x2="269.8" y2="706.7" stroke="#ff0000" stroke-width="1.5" />
<line x1="270.2" y1="704.5" x2="270.2" y2="710.0" stroke="#ff0000" stroke-width="1.6" />
<line x1="268.9" y1="707.3" x2="271.6" y2="707.3" stroke="#ff0000" stroke-width="1.5" />
<line x1="272.0" y1="701.2" x2="272.0" y2="707.4" stroke="#ff0000" stroke-width="1.6" />
<line x1="270.7" y1="704.3" x2="273.3" y2="704.3" stroke="#ff0000" stroke-width="1.5" />
<line x1="273.8" y1="704.0" x2="273.8" y2="709.0" stroke="#ff0000" stroke-width="1.6" />
<line x1="272.4" y1="706.5" x2="275.1" y2="706.5" stroke="#ff0000" stroke-width="1.5" />
<line x1="275.5" y1="705.7" x2="275.5" y2="710.9" stroke="#ff0000" stroke-width="1.6" />
<line x1="274.2" y1="708.3" x2="276.8" y2="708.3" stroke="#ff0000" stroke-width="1.5" />
<line x1="277.2" y1="707.1" x2="277.2" y2="712.3" stroke="#ff0000" stroke-width="1.6" />
<line x1="275.9" y1="709.7" x2="278.6" y2="709.7" stroke="#ff0000" stroke-width="1.5" />
<line x1="279.0" y1="702.8" x2="279.0" y2="708.3" stroke="#ff0000" stroke-width="1.6" />
<line x1="277.7" y1="705.5" x2="280.3" y2="705.5" stroke="#ff0000" stroke-width="1.5" />
<line x1="280.8" y1="705.7" x2="280.8" y2="710.9" stroke="#ff0000" stroke-width="1.6" />
<line x1="279.4" y1="708.3" x2="282.1" y2="708.3" stroke="#ff0000" stroke-width="1.5" />
<line x1="282.5" y1="706.8" x2="282.5" y2="711.6" stroke="#ff0000" stroke-width="1.6" />
<line x1="281.2" y1="709.2" x2="283.8" y2="709.2" stroke="#ff0000" stroke-width="1.5" />
<line x1="284.2" y1="704.2" x2="284.2" y2="710.2" stroke="#ff0000" stroke-width="1.6" />
<line x1="282.9" y1="707.2" x2="285.6" y2="707.2" stroke="#ff0000" stroke-width="1.5" />
<line x1="286.0" y1="705.8" x2="286.0" y2="711.3" stroke="#ff0000" stroke-width="1.6" />
<line x1="284.7" y1="708.5" x2="287.3" y2="708.5" stroke="#ff0000" stroke-width="1.5" />
<line x1="287.8" y1="704.5" x2="287.8" y2="709.2" stroke="#ff0000" stroke-width="1.6" />
<line x1="286.4" y1="706.8" x2="289.1" y2="706.8" stroke="#ff0000" stroke-width="1.5" />
<line x1="289.5" y1="706.8" x2="289.5" y2="711.5" stroke="#ff0000" stroke-width="1.6" />
<line x1="288.2" y1="709.1" x2="290.8" y2="709.1" stroke="#ff0000" stroke-width="1.5" />
<line x1="291.2" y1="706.3" x2="291.2" y2="711.4" stroke="#ff0000" stroke-width="1.6" />
<line x1="289.9" y1="708.9" x2="292.6" y2="708.9" stroke="#ff0000" stroke-width="1.5" />
<line x1="293.0" y1="703.3" x2="293.0" y2="709.2" stroke="#ff0000" stroke-width="1.6" />
<line x1="291.7" y1="706.3" x2="294.3" y2="706.3" stroke="#ff0000" stroke-width="1.5" />
<line x1="294.8" y1="704.6" x2="294.8" y2="709.8" stroke="#ff0000" stroke-width="1.6" />
<line x1="293.4" y1="707.2" x2="296.1" y2="707.2" stroke="#ff0000" stroke-width="1.5" />
<line x1="296.5" y1="706.9" x2="296.5" y2="712.4" stroke="#ff0000" stroke-width="1.6" />
<line x1="295.2" y1="709.6" x2="297.8" y2="709.6" stroke="#ff0000" stroke-width="1.5" />
<line x1="298.2" y1="705.3" x2="298.2" y2="710.4" stroke="#ff0000" stroke-width="1.6" />
<line x1="296.9" y1="707.8" x2="299.6" y2="707.8" stroke="#ff0000" stroke-width="1.5" />
<line x1="300.0" y1="705.5" x2="300.0" y2="711.0" stroke="#ff0000" stroke-width="1.6" />
<line x1="298.7" y1="708.2" x2="301.3" y2="708.2" stroke="#ff0000" stroke-width="1.5" />
<line x1="301.8" y1="704.2" x2="301.8" y2="709.5" stroke="#ff0000" stroke-width="1.6" />
<line x1="300.4" y1="706.8" x2="303.1" y2="706.8" stroke="#ff0000" stroke-width="1.5" />
<line x1="303.5" y1="705.4" x2="303.5" y2="711.0" stroke="#ff0000" stroke-width="1.6" />
<line x1="302.2" y1="708.2" x2="304.8" y2="708.2" stroke="#ff0000" stroke-width="1.5" />
<line x1="305.2" y1="705.9" x2="305.2" y2="712.3" stroke="#ff0000" stroke-width="1.6" />
<line x1="303.9" y1="709.1" x2="306.6" y2="709.1" stroke="#ff0000" stroke-width="1.5" />
<line x1="307.0" y1="705.3" x2="307.0" y2="710.1" stroke="#ff0000" stroke-width="1.6" />
<line x1="305.7" y1="707.7" x2="308.3" y2="707.7" stroke="#ff0000" stroke-width="1.5" />
<line x1="308.8" y1="704.0" x2="308.8" y2="709.8" stroke="#ff0000" stroke-width="1.6" />
<line x1="307.4" y1="706.9" x2="310.1" y2="706.9" stroke="#ff0000" stroke-width="1.5" />
<line x1="310.5" y1="708.4" x2="310.5" y2="713.5" stroke="#ff0000" stroke-width="1.6" />
<line x1="309.2" y1="711.0" x2="311.8" y2="711.0" stroke="#ff0000" stroke-width="1.5" />
<line x1="312.2" y1="705.5" x2="312.2" y2="711.1" stroke="#ff0000" stroke-width="1.6" />
<line x1="310.9" y1="708.3" x2="313.6" y2="708.3" stroke="#ff0000" stroke-width="1.5" />
<line x1="314.0" y1="703.9" x2="314.0" y2="710.1" stroke="#ff0000" stroke-width="1.6" />
<line x1="312.7" y1="707.0" x2="315.3" y2="707.0" stroke="#ff0000" stroke-width="1.5" />
<line x1="315.8" y1="704.2" x2="315.8" y2="710.0" stroke="#ff0000" stroke-width="1.6" />
<line x1="314.4" y1="707.1" x2="317.1" y2="707.1" stroke="#ff0000" stroke-width="1.5" />
<line x1="317.5" y1="704.6" x2="317.5" y2="710.9" stroke="#ff0000" stroke-width="1.6" />
<line x1="316.2" y1="707.7" x2="318.8" y2="707.7" stroke="#ff0000" stroke-width="1.5" />
<line x1="319.2" y1="703.3" x2="319.2" y2="708.9" stroke="#ff0000" stroke-width="1.6" />
<line x1="317.9" y1="706.1" x2="320.6" y2="706.1" stroke="#ff0000" stroke-width="1.5" />
<line x1="321.0" y1="703.7" x2="321.0" y2="709.1" stroke="#ff0000" stroke-width="1.6" />
<line x1="319.7" y1="706.4" x2="322.3" y2="706.4" stroke="#ff0000" stroke-width="1.5" />
<line x1="322.8" y1="705.2" x2="322.8" y2="711.6" stroke="#ff0000" stroke-width="1.6" />
<line x1="321.4" y1="708.4" x2="324.1" y2="708.4" stroke="#ff0000" stroke-width="1.5" />
<line x1="324.5" y1="704.3" x2="324.5" y2="709.1" stroke="#ff0000" stroke-width="1.6" />
<line x1="323.2" y1="706.7" x2="325.8" y2="706.7" stroke="#ff0000" stroke-width="1.5" />
<line x1="326.2" y1="704.7" x2="326.2" y2="710.2" stroke="#ff0000" stroke-width="1.6" />
<line x1="324.9" y1="707.4" x2="327.6" y2="707.4" stroke="#ff0000" stroke-width="1.5" />
<line x1="328.0" y1="706.5" x2="328.0" y2="711.5" stroke="#ff0000" stroke-width="1.6" />
<line x1="326.7" y1="709.0" x2="329.3" y2="709.0" stroke="#ff0000" stroke-width="1.5" />
<line x1="329.8" y1="703.3" x2="329.8" y2="709.1" stroke="#ff0000" stroke-width="1.6" />
<line x1="328.4" y1="706.2" x2="331.1" y2="706.2" stroke="#ff0000" stroke-width="1.5" />
<line x1="331.5" y1="706.2" x2="331.5" y2="711.0" stroke="#ff0000" stroke-width="1.6" />
<line x1="330.2" y1="708.6" x2="332.8" y2="708.6" stroke="#ff0000" stroke-width="1.5" />
<line x1="333.2" y1="702.7" x2="333.2" y2="709.1" stroke="#ff0000" stroke-width="1.6" />
<line x1="331.9" y1="705.9" x2="334.6" y2="705.9" stroke="#ff0000" stroke-width="1.5" />
<line x1="335.0" y1="702.0" x2="335.0" y2="708.0" stroke="#ff0000" stroke-width="1.6" />
<line x1="333.7" y1="705.0" x2="336.3" y2="705.0" stroke="#ff0000" stroke-width="1.5" />
<line x1="336.8" y1="703.5" x2="336.8" y2="709.0" stroke="#ff0000" stroke-width="1.6" />
<line x1="335.4" y1="706.2" x2="338.1" y2="706.2" stroke="#ff0000" stroke-width="1.5" />
<line x1="338.5" y1="702.0" x2="338.5" y2="708.4" stroke="#ff0000" stroke-width="1.6" />
<line x1="337.2" y1="705.2" x2="339.8" y2="705.2" stroke="#ff0000" stroke-width="1.5" />
<line x1="340.2" y1="701.0" x2="340.2" y2="706.9" stroke="#ff0000" stroke-width="1.6" />
<line x1="338.9" y1="703.9" x2="341.6" y2="703.9" stroke="#ff0000" stroke-width="1.5" />
<line x1="342.0" y1="704.7" x2="342.0" y2="710.4" stroke="#ff0000" stroke-width="1.6" />
<line x1="340.7" y1="707.5" x2="343.3" y2="707.5" stroke="#ff0000" stroke-width="1.5" />
<line x1="343.8" y1="700.8" x2="343.8" y2="706.9" stroke="#ff0000" stroke-width="1.6" />
<line x1="342.4" y1="703.8" x2="345.1" y2="703.8" stroke="#ff0000" stroke-width="1.5" />
<line x1="345.5" y1="698.4" x2="345.5" y2="703.4" stroke="#ff0000" stroke-width="1.6" />
<line x1="344.2" y1="700.9" x2="346.8" y2="700.9" stroke="#ff0000" stroke-width="1.5" />
<line x1="347.2" y1="700.8" x2="347.2" y2="706.3" stroke="#ff0000" stroke-width="1.6" />
<line x1="345.9" y1="703.5" x2="348.6" y2="703.5" stroke="#ff0000" stroke-width="1.5" />
<line x1="349.0" y1="699.3" x2="349.0" y2="705.3" stroke="#ff0000" stroke-width="1.6" />
<line x1="347.7" y1="702.3" x2="350.3" y2="702.3" stroke="#ff0000" stroke-width="1.5" />
<line x1="350.8" y1="699.3" x2="350.8" y2="704.3" stroke="#ff0000" stroke-width="1.6" />
<line x1="349.4" y1="701.8" x2="352.1" y2="701.8" stroke="#ff0000" stroke-width="1.5" />
<line x1="352.5" y1="698.1" x2="352.5" y2="703.6" stroke="#ff0000" stroke-width="1.6" />
<line x1="351.2" y1="700.9" x2="353.8" y2="700.9" stroke="#ff0000" stroke-width="1.5" />
<line x1="354.2" y1="701.2" x2="354.2" y2="707.5" stroke="#ff0000" stroke-width="1.6" />
<line x1="352.9" y1="704.3" x2="355.6" y2="704.3" stroke="#ff0000" stroke-width="1.5" />
<line x1="356.0" y1="700.0" x2="356.0" y2="705.7" stroke="#ff0000" stroke-width="1.6" />
<line x1="354.7" y1="702.9" x2="357.3" y2="702.9" stroke="#ff0000" stroke-width="1.5" />
<line x1="357.8" y1="697.5" x2="357.8" y2="703.5" stroke="#ff0000" stroke-width="1.6" />
<line x1="356.4" y1="700.5" x2="359.1" y2="700.5" stroke="#ff0000" stroke-width="1.5" />
<line x1="359.5" y1="699.2" x2="359.5" y2="703.9" stroke="#ff0000" stroke-width="1.6" />
<line x1="358.2" y1="701.6" x2="360.8" y2="701.6" stroke="#ff0000" stroke-width="1.5" />
<line x1="361.2" y1="697.4" x2="361.2" y2="702.8" stroke="#ff0000" stroke-width="1.6" />
<line x1="359.9" y1="700.1" x2="362.6" y2="700.1" stroke="#ff0000" stroke-width="1.5" />
<line x1="363.0" y1="697.4" x2="363.0" y2="703.1" stroke="#ff0000" stroke-width="1.6" />
<line x1="361.7" y1="700.2" x2="364.3" y2="700.2" stroke="#ff0000" stroke-width="1.5" />
<line x1="364.8" y1="702.7" x2="364.8" y2="708.8" stroke="#ff0000" stroke-width="1.6" />
<line x1="363.4" y1="705.8" x2="366.1" y2="705.8" stroke="#ff0000" stroke-width="1.5" />
<line x1="366.5" y1="699.3" x2="366.5" y2="705.3" stroke="#ff0000" stroke-width="1.6" />
<line x1="365.2" y1="702.3" x2="367.8" y2="702.3" stroke="#ff0000" stroke-width="1.5" />
<line x1="368.2" y1="698.4" x2="368.2" y2="703.9" stroke="#ff0000" stroke-width="1.6" />
<line x1="366.9" y1="701.2" x2="369.6" y2="701.2" stroke="#ff0000" stroke-width="1.5" />
<line x1="370.0" y1="697.8" x2="370.0" y2="703.9" stroke="#ff0000" stroke-width="1.6" />
<line x1="368.7" y1="700.8" x2="371.3" y2="700.8" stroke="#ff0000" stroke-width="1.5" />
<line x1="372.6" y1="698.8" x2="372.6" y2="704.2" stroke="#ff0000" stroke-width="1.6" />
<line x1="371.3" y1="701.5" x2="373.9" y2="701.5" stroke="#ff0000" stroke-width="1.5" />
<line x1="375.2" y1="693.1" x2="375.2" y2="698.0" stroke="#ff0000" stroke-width="1.6" />
<line x1="373.9" y1="695.6" x2="376.5" y2="695.6" stroke="#ff0000" stroke-width="1.5" />
<line x1="377.8" y1="697.6" x2="377.8" y2="702.5" stroke="#ff0000" stroke-width="1.6" />
<line x1="376.5" y1="700.0" x2="379.1" y2="700.0" stroke="#ff0000" stroke-width="1.5" />
<line x1="380.4" y1="696.5" x2="380.4" y2="702.6" stroke="#ff0000" stroke-width="1.6" />
<line x1="379.1" y1="699.6" x2="381.7" y2="699.6" stroke="#ff0000" stroke-width="1.5" />
<line x1="383.0" y1="692.3" x2="383.0" y2="698.0" stroke="#ff0000" stroke-width="1.6" />
<line x1="381.7" y1="695.1" x2="384.3" y2="695.1" stroke="#ff0000" stroke-width="1.5" />
<line x1="387.2" y1="688.6" x2="387.2" y2="693.4" stroke="#ff0000" stroke-width="1.4" />
<line x1="385.0" y1="691.0" x2="389.4" y2="691.0" stroke="#ff0000" stroke-width="1.4" />
<line x1="390.6" y1="691.1" x2="390.6" y2="695.9" stroke="#ff0000" stroke-width="1.4" />
<line x1="388.4" y1="693.5" x2="392.8" y2="693.5" stroke="#ff0000" stroke-width="1.4" />
<line x1="394.8" y1="688.1" x2="394.8" y2="692.9" stroke="#ff0000" stroke-width="1.4" />
<line x1="392.6" y1="690.5" x2="397.0" y2="690.5" stroke="#ff0000" stroke-width="1.4" />
<line x1="399.4" y1="687.7" x2="399.4" y2="692.5" stroke="#ff0000" stroke-width="1.4" />
<line x1="397.2" y1="690.1" x2="401.6" y2="690.1" stroke="#ff0000" stroke-width="1.4" />
<line x1="404.1" y1="686.0" x2="404.1" y2="690.8" stroke="#ff0000" stroke-width="1.4" />
<line x1="401.9" y1="688.4" x2="406.3" y2="688.4" stroke="#ff0000" stroke-width="1.4" />
<line x1="409.1" y1="682.7" x2="409.1" y2="687.5" stroke="#ff0000" stroke-width="1.4" />
<line x1="406.9" y1="685.1" x2="411.3" y2="685.1" stroke="#ff0000" stroke-width="1.4" />
<line x1="414.2" y1="683.9" x2="414.2" y2="688.7" stroke="#ff0000" stroke-width="1.4" />
<line x1="412.0" y1="686.3" x2="416.4" y2="686.3" stroke="#ff0000" stroke-width="1.4" />
<line x1="419.3" y1="679.3" x2="419.3" y2="684.1" stroke="#ff0000" stroke-width="1.4" />
<line x1="417.1" y1="681.7" x2="421.5" y2="681.7" stroke="#ff0000" stroke-width="1.4" />
<line x1="425.2" y1="675.9" x2="425.2" y2="680.7" stroke="#ff0000" stroke-width="1.4" />
<line x1="423.0" y1="678.3" x2="427.4" y2="678.3" stroke="#ff0000" stroke-width="1.4" />
<line x1="431.1" y1="676.6" x2="431.1" y2="681.4" stroke="#ff0000" stroke-width="1.4" />
<line x1="428.9" y1="679.0" x2="433.3" y2="679.0" stroke="#ff0000" stroke-width="1.4" />
<line x1="436.5" y1="675.1" x2="436.5" y2="679.9" stroke="#ff0000" stroke-width="1.4" />
<line x1="434.3" y1="677.5" x2="438.7" y2="677.5" stroke="#ff0000" stroke-width="1.4" />
<line x1="442.0" y1="670.4" x2="442.0" y2="675.2" stroke="#ff0000" stroke-width="1.4" />
<line x1="439.8" y1="672.8" x2="444.2" y2="672.8" stroke="#ff0000" stroke-width="1.4" />
<line x1="447.1" y1="670.0" x2="447.1" y2="674.8" stroke="#ff0000" stroke-width="1.4" />
<line x1="444.9" y1="672.4" x2="449.3" y2="672.4" stroke="#ff0000" stroke-width="1.4" />
<line x1="452.6" y1="667.5" x2="452.6" y2="672.3" stroke="#ff0000" stroke-width="1.4" />
<line x1="450.4" y1="669.9" x2="454.8" y2="669.9" stroke="#ff0000" stroke-width="1.4" />
<line x1="457.2" y1="664.0" x2="457.2" y2="668.8" stroke="#ff0000" stroke-width="1.4" />
<line x1="455.0" y1="666.4" x2="459.4" y2="666.4" stroke="#ff0000" stroke-width="1.4" />
<line x1="461.4" y1="663.1" x2="461.4" y2="667.9" stroke="#ff0000" stroke-width="1.4" />
<line x1="459.2" y1="665.5" x2="463.6" y2="665.5" stroke="#ff0000" stroke-width="1.4" />
<line x1="465.6" y1="661.4" x2="465.6" y2="666.2" stroke="#ff0000" stroke-width="1.4" />
<line x1="463.4" y1="663.8" x2="467.8" y2="663.8" stroke="#ff0000" stroke-width="1.4" />
<line x1="470.7" y1="659.7" x2="470.7" y2="664.5" stroke="#ff0000" stroke-width="1.4" />
<line x1="468.5" y1="662.1" x2="472.9" y2="662.1" stroke="#ff0000" stroke-width="1.4" />
<line x1="475.8" y1="655.2" x2="475.8" y2="660.0" stroke="#ff0000" stroke-width="1.4" />
<line x1="473.6" y1="657.6" x2="478.0" y2="657.6" stroke="#ff0000" stroke-width="1.4" />
<line x1="483.7" y1="658.9" x2="483.7" y2="664.1" stroke="#ff0000" stroke-width="1.4" />
<line x1="481.4" y1="661.5" x2="486.0" y2="661.5" stroke="#ff0000" stroke-width="1.4" />
<line x1="488.9" y1="657.3" x2="488.9" y2="662.5" stroke="#ff0000" stroke-width="1.4" />
<line x1="486.6" y1="659.9" x2="491.2" y2="659.9" stroke="#ff0000" stroke-width="1.4" />
<line x1="495.8" y1="654.4" x2="495.8" y2="659.6" stroke="#ff0000" stroke-width="1.4" />
<line x1="493.5" y1="657.0" x2="498.1" y2="657.0" stroke="#ff0000" stroke-width="1.4" />
<line x1="501.2" y1="652.4" x2="501.2" y2="657.6" stroke="#ff0000" stroke-width="1.4" />
<line x1="498.9" y1="655.0" x2="503.5" y2="655.0" stroke="#ff0000" stroke-width="1.4" />
<line x1="508.2" y1="652.8" x2="508.2" y2="659.8" stroke="#ff0000" stroke-width="1.4" />
<line x1="502.0" y1="656.3" x2="512.5" y2="656.3" stroke="#ff0000" stroke-width="1.4" />
<line x1="517.8" y1="648.5" x2="517.8" y2="656.3" stroke="#ff0000" stroke-width="1.4" />
<line x1="512.5" y1="651.9" x2="523.1" y2="651.9" stroke="#ff0000" stroke-width="1.4" />
<line x1="531.3" y1="632.0" x2="531.3" y2="640.8" stroke="#ff0000" stroke-width="1.4" />
<line x1="523.1" y1="637.5" x2="534.2" y2="637.5" stroke="#ff0000" stroke-width="1.4" />
<line x1="429.1" y1="674.5" x2="429.1" y2="688.8" stroke="#00ff00" stroke-width="1.3" />
<line x1="424.6" y1="681.3" x2="434.4" y2="681.3" stroke="#00ff00" stroke-width="1.3" />
<line x1="439.2" y1="668.7" x2="439.2" y2="681.3" stroke="#00ff00" stroke-width="1.3" />
<line x1="434.9" y1="674.9" x2="443.1" y2="674.9" stroke="#00ff00" stroke-width="1.3" />
<line x1="448.6" y1="673.5" x2="448.6" y2="688.2" stroke="#00ff00" stroke-width="1.3" />
<line x1="444.7" y1="681.3" x2="452.5" y2="681.3" stroke="#00ff00" stroke-width="1.3" />
<line x1="456.8" y1="665.8" x2="456.8" y2="680.4" stroke="#00ff00" stroke-width="1.3" />
<line x1="453.3" y1="673.2" x2="460.3" y2="673.2" stroke="#00ff00" stroke-width="1.3" />
<line x1="464.2" y1="662.8" x2="464.2" y2="676.5" stroke="#00ff00" stroke-width="1.3" />
<line x1="461.1" y1="669.7" x2="467.5" y2="669.7" stroke="#00ff00" stroke-width="1.3" />
<line x1="471.4" y1="658.9" x2="471.4" y2="675.5" stroke="#00ff00" stroke-width="1.3" />
<line x1="468.1" y1="666.7" x2="474.3" y2="666.7" stroke="#00ff00" stroke-width="1.3" />
<line x1="477.6" y1="649.2" x2="477.6" y2="665.8" stroke="#00ff00" stroke-width="1.3" />
<line x1="474.3" y1="658.0" x2="480.6" y2="658.0" stroke="#00ff00" stroke-width="1.3" />
<line x1="483.7" y1="658.9" x2="483.7" y2="678.4" stroke="#00ff00" stroke-width="1.3" />
<line x1="480.6" y1="668.7" x2="486.6" y2="668.7" stroke="#00ff00" stroke-width="1.3" />
<line x1="489.9" y1="644.3" x2="489.9" y2="662.8" stroke="#00ff00" stroke-width="1.3" />
<line x1="487.0" y1="653.7" x2="492.8" y2="653.7" stroke="#00ff00" stroke-width="1.3" />
<line x1="494.8" y1="642.8" x2="494.8" y2="661.9" stroke="#00ff00" stroke-width="1.3" />
<line x1="492.4" y1="652.5" x2="497.3" y2="652.5" stroke="#00ff00" stroke-width="1.3" />
<line x1="502.6" y1="653.7" x2="502.6" y2="672.6" stroke="#00ff00" stroke-width="1.3" />
<line x1="498.7" y1="662.8" x2="506.9" y2="662.8" stroke="#00ff00" stroke-width="1.3" />
<line x1="511.0" y1="651.1" x2="511.0" y2="671.2" stroke="#00ff00" stroke-width="1.3" />
<line x1="506.9" y1="660.3" x2="515.2" y2="660.3" stroke="#00ff00" stroke-width="1.3" />
<line x1="519.7" y1="640.0" x2="519.7" y2="661.5" stroke="#00ff00" stroke-width="1.3" />
<line x1="515.2" y1="650.6" x2="524.0" y2="650.6" stroke="#00ff00" stroke-width="1.3" />
<line x1="529.3" y1="631.6" x2="529.3" y2="653.1" stroke="#00ff00" stroke-width="1.3" />
<line x1="524.0" y1="642.0" x2="534.7" y2="642.0" stroke="#00ff00" stroke-width="1.3" />
<line x1="542.1" y1="626.4" x2="542.1" y2="649.2" stroke="#00ff00" stroke-width="1.3" />
<line x1="534.7" y1="637.5" x2="549.3" y2="637.5" stroke="#00ff00" stroke-width="1.3" />
<line x1="561.7" y1="616.7" x2="561.7" y2="648.6" stroke="#00ff00" stroke-width="1.3" />
<line x1="549.6" y1="631.2" x2="574.2" y2="631.2" stroke="#00ff00" stroke-width="1.3" />
<line x1="583.8" y1="577.4" x2="583.8" y2="645.7" stroke="#00ff00" stroke-width="1.3" />
<line x1="574.0" y1="606.8" x2="594.0" y2="606.8" stroke="#00ff00" stroke-width="1.3" />
<line x1="584.9" y1="592.0" x2="584.9" y2="624.0" stroke="#0000ff" stroke-width="1.55" />
<line x1="568.8" y1="607.4" x2="602.3" y2="607.4" stroke="#0000ff" stroke-width="1.55" />
<rect x="580.7" y="603.2" width="8.4" height="8.4" fill="none" stroke="#0000ff" stroke-width="1.55"/>
<line x1="615.5" y1="570.7" x2="615.5" y2="598.8" stroke="#0000ff" stroke-width="1.55" />
<line x1="603.2" y1="584.1" x2="628.1" y2="584.1" stroke="#0000ff" stroke-width="1.55" />
<rect x="611.3" y="579.9" width="8.4" height="8.4" fill="none" stroke="#0000ff" stroke-width="1.55"/>
<line x1="640.7" y1="568.8" x2="640.7" y2="598.3" stroke="#0000ff" stroke-width="1.55" />
<line x1="628.1" y1="583.3" x2="653.6" y2="583.3" stroke="#0000ff" stroke-width="1.55" />
<rect x="636.5" y="579.1" width="8.4" height="8.4" fill="none" stroke="#0000ff" stroke-width="1.55"/>
<line x1="663.5" y1="588.1" x2="663.5" y2="634.2" stroke="#0000ff" stroke-width="1.55" />
<line x1="653.0" y1="608.7" x2="674.5" y2="608.7" stroke="#0000ff" stroke-width="1.55" />
<rect x="659.3" y="604.5" width="8.4" height="8.4" fill="none" stroke="#0000ff" stroke-width="1.55"/>
<line x1="686.3" y1="571.2" x2="686.3" y2="635.8" stroke="#0000ff" stroke-width="1.55" />
<line x1="674.2" y1="599.3" x2="699.7" y2="599.3" stroke="#0000ff" stroke-width="1.55" />
<rect x="682.1" y="595.1" width="8.4" height="8.4" fill="none" stroke="#0000ff" stroke-width="1.55"/>
<line x1="714.4" y1="548.7" x2="714.4" y2="608.7" stroke="#0000ff" stroke-width="1.55" />
<line x1="699.1" y1="575.2" x2="731.3" y2="575.2" stroke="#0000ff" stroke-width="1.55" />
<rect x="710.2" y="571.0" width="8.4" height="8.4" fill="none" stroke="#0000ff" stroke-width="1.55"/>
<line x1="755.4" y1="513.9" x2="755.4" y2="581.9" stroke="#0000ff" stroke-width="1.55" />
<line x1="730.8" y1="543.3" x2="783.5" y2="543.3" stroke="#0000ff" stroke-width="1.55" />
<rect x="751.2" y="539.1" width="8.4" height="8.4" fill="none" stroke="#0000ff" stroke-width="1.55"/>
</g>
<rect x="91.7" y="437.0" width="721.5999999999999" height="321.6" fill="none" stroke="#000" stroke-width="1.7"/>
<line x1="92.4" y1="437.0" x2="92.4" y2="443.9" stroke="#000" stroke-width="1.6" />
<line x1="92.4" y1="758.6" x2="92.4" y2="751.7" stroke="#000" stroke-width="1.6" />
<line x1="103.0" y1="437.0" x2="103.0" y2="443.9" stroke="#000" stroke-width="1.6" />
<line x1="103.0" y1="758.6" x2="103.0" y2="751.7" stroke="#000" stroke-width="1.6" />
<line x1="112.4" y1="437.0" x2="112.4" y2="450.8" stroke="#000" stroke-width="1.6" />
<line x1="112.4" y1="758.6" x2="112.4" y2="744.8" stroke="#000" stroke-width="1.6" />
<line x1="174.5" y1="437.0" x2="174.5" y2="443.9" stroke="#000" stroke-width="1.6" />
<line x1="174.5" y1="758.6" x2="174.5" y2="751.7" stroke="#000" stroke-width="1.6" />
<line x1="210.8" y1="437.0" x2="210.8" y2="443.9" stroke="#000" stroke-width="1.6" />
<line x1="210.8" y1="758.6" x2="210.8" y2="751.7" stroke="#000" stroke-width="1.6" />
<line x1="236.5" y1="437.0" x2="236.5" y2="443.9" stroke="#000" stroke-width="1.6" />
<line x1="236.5" y1="758.6" x2="236.5" y2="751.7" stroke="#000" stroke-width="1.6" />
<line x1="256.5" y1="437.0" x2="256.5" y2="443.9" stroke="#000" stroke-width="1.6" />
<line x1="256.5" y1="758.6" x2="256.5" y2="751.7" stroke="#000" stroke-width="1.6" />
<line x1="272.9" y1="437.0" x2="272.9" y2="443.9" stroke="#000" stroke-width="1.6" />
<line x1="272.9" y1="758.6" x2="272.9" y2="751.7" stroke="#000" stroke-width="1.6" />
<line x1="286.7" y1="437.0" x2="286.7" y2="443.9" stroke="#000" stroke-width="1.6" />
<line x1="286.7" y1="758.6" x2="286.7" y2="751.7" stroke="#000" stroke-width="1.6" />
<line x1="298.6" y1="437.0" x2="298.6" y2="443.9" stroke="#000" stroke-width="1.6" />
<line x1="298.6" y1="758.6" x2="298.6" y2="751.7" stroke="#000" stroke-width="1.6" />
<line x1="309.2" y1="437.0" x2="309.2" y2="443.9" stroke="#000" stroke-width="1.6" />
<line x1="309.2" y1="758.6" x2="309.2" y2="751.7" stroke="#000" stroke-width="1.6" />
<line x1="318.6" y1="437.0" x2="318.6" y2="450.8" stroke="#000" stroke-width="1.6" />
<line x1="318.6" y1="758.6" x2="318.6" y2="744.8" stroke="#000" stroke-width="1.6" />
<line x1="380.7" y1="437.0" x2="380.7" y2="443.9" stroke="#000" stroke-width="1.6" />
<line x1="380.7" y1="758.6" x2="380.7" y2="751.7" stroke="#000" stroke-width="1.6" />
<line x1="417.0" y1="437.0" x2="417.0" y2="443.9" stroke="#000" stroke-width="1.6" />
<line x1="417.0" y1="758.6" x2="417.0" y2="751.7" stroke="#000" stroke-width="1.6" />
<line x1="442.7" y1="437.0" x2="442.7" y2="443.9" stroke="#000" stroke-width="1.6" />
<line x1="442.7" y1="758.6" x2="442.7" y2="751.7" stroke="#000" stroke-width="1.6" />
<line x1="462.7" y1="437.0" x2="462.7" y2="443.9" stroke="#000" stroke-width="1.6" />
<line x1="462.7" y1="758.6" x2="462.7" y2="751.7" stroke="#000" stroke-width="1.6" />
<line x1="479.1" y1="437.0" x2="479.1" y2="443.9" stroke="#000" stroke-width="1.6" />
<line x1="479.1" y1="758.6" x2="479.1" y2="751.7" stroke="#000" stroke-width="1.6" />
<line x1="492.9" y1="437.0" x2="492.9" y2="443.9" stroke="#000" stroke-width="1.6" />
<line x1="492.9" y1="758.6" x2="492.9" y2="751.7" stroke="#000" stroke-width="1.6" />
<line x1="504.8" y1="437.0" x2="504.8" y2="443.9" stroke="#000" stroke-width="1.6" />
<line x1="504.8" y1="758.6" x2="504.8" y2="751.7" stroke="#000" stroke-width="1.6" />
<line x1="515.4" y1="437.0" x2="515.4" y2="443.9" stroke="#000" stroke-width="1.6" />
<line x1="515.4" y1="758.6" x2="515.4" y2="751.7" stroke="#000" stroke-width="1.6" />
<line x1="524.8" y1="437.0" x2="524.8" y2="450.8" stroke="#000" stroke-width="1.6" />
<line x1="524.8" y1="758.6" x2="524.8" y2="744.8" stroke="#000" stroke-width="1.6" />
<line x1="586.9" y1="437.0" x2="586.9" y2="443.9" stroke="#000" stroke-width="1.6" />
<line x1="586.9" y1="758.6" x2="586.9" y2="751.7" stroke="#000" stroke-width="1.6" />
<line x1="623.2" y1="437.0" x2="623.2" y2="443.9" stroke="#000" stroke-width="1.6" />
<line x1="623.2" y1="758.6" x2="623.2" y2="751.7" stroke="#000" stroke-width="1.6" />
<line x1="648.9" y1="437.0" x2="648.9" y2="443.9" stroke="#000" stroke-width="1.6" />
<line x1="648.9" y1="758.6" x2="648.9" y2="751.7" stroke="#000" stroke-width="1.6" />
<line x1="668.9" y1="437.0" x2="668.9" y2="443.9" stroke="#000" stroke-width="1.6" />
<line x1="668.9" y1="758.6" x2="668.9" y2="751.7" stroke="#000" stroke-width="1.6" />
<line x1="685.3" y1="437.0" x2="685.3" y2="443.9" stroke="#000" stroke-width="1.6" />
<line x1="685.3" y1="758.6" x2="685.3" y2="751.7" stroke="#000" stroke-width="1.6" />
<line x1="699.1" y1="437.0" x2="699.1" y2="443.9" stroke="#000" stroke-width="1.6" />
<line x1="699.1" y1="758.6" x2="699.1" y2="751.7" stroke="#000" stroke-width="1.6" />
<line x1="711.0" y1="437.0" x2="711.0" y2="443.9" stroke="#000" stroke-width="1.6" />
<line x1="711.0" y1="758.6" x2="711.0" y2="751.7" stroke="#000" stroke-width="1.6" />
<line x1="721.6" y1="437.0" x2="721.6" y2="443.9" stroke="#000" stroke-width="1.6" />
<line x1="721.6" y1="758.6" x2="721.6" y2="751.7" stroke="#000" stroke-width="1.6" />
<line x1="731.0" y1="437.0" x2="731.0" y2="450.8" stroke="#000" stroke-width="1.6" />
<line x1="731.0" y1="758.6" x2="731.0" y2="744.8" stroke="#000" stroke-width="1.6" />
<line x1="793.1" y1="437.0" x2="793.1" y2="443.9" stroke="#000" stroke-width="1.6" />
<line x1="793.1" y1="758.6" x2="793.1" y2="751.7" stroke="#000" stroke-width="1.6" />
<line x1="91.7" y1="711.0" x2="98.6" y2="711.0" stroke="#000" stroke-width="1.6" />
<line x1="813.3" y1="711.0" x2="806.4" y2="711.0" stroke="#000" stroke-width="1.6" />
<line x1="91.7" y1="677.5" x2="98.6" y2="677.5" stroke="#000" stroke-width="1.6" />
<line x1="813.3" y1="677.5" x2="806.4" y2="677.5" stroke="#000" stroke-width="1.6" />
<line x1="91.7" y1="651.6" x2="98.6" y2="651.6" stroke="#000" stroke-width="1.6" />
<line x1="813.3" y1="651.6" x2="806.4" y2="651.6" stroke="#000" stroke-width="1.6" />
<line x1="91.7" y1="630.4" x2="98.6" y2="630.4" stroke="#000" stroke-width="1.6" />
<line x1="813.3" y1="630.4" x2="806.4" y2="630.4" stroke="#000" stroke-width="1.6" />
<line x1="91.7" y1="612.4" x2="98.6" y2="612.4" stroke="#000" stroke-width="1.6" />
<line x1="813.3" y1="612.4" x2="806.4" y2="612.4" stroke="#000" stroke-width="1.6" />
<line x1="91.7" y1="596.9" x2="98.6" y2="596.9" stroke="#000" stroke-width="1.6" />
<line x1="813.3" y1="596.9" x2="806.4" y2="596.9" stroke="#000" stroke-width="1.6" />
<line x1="91.7" y1="583.2" x2="98.6" y2="583.2" stroke="#000" stroke-width="1.6" />
<line x1="813.3" y1="583.2" x2="806.4" y2="583.2" stroke="#000" stroke-width="1.6" />
<line x1="91.7" y1="570.9" x2="105.5" y2="570.9" stroke="#000" stroke-width="1.6" />
<line x1="813.3" y1="570.9" x2="799.5" y2="570.9" stroke="#000" stroke-width="1.6" />
<line x1="91.7" y1="490.2" x2="98.6" y2="490.2" stroke="#000" stroke-width="1.6" />
<line x1="813.3" y1="490.2" x2="806.4" y2="490.2" stroke="#000" stroke-width="1.6" />
<line x1="91.7" y1="443.0" x2="98.6" y2="443.0" stroke="#000" stroke-width="1.6" />
<line x1="813.3" y1="443.0" x2="806.4" y2="443.0" stroke="#000" stroke-width="1.6" />
<text transform="matrix(0.25565 0 0 0.22273 95.58 785.10)" font-family="Liberation Serif" font-size="100" font-weight="normal" font-style="normal" fill="#000" stroke="#000" stroke-width="1.2">0.1</text>
<text transform="matrix(0.19429 0 0 0.22879 313.45 785.10)" font-family="Liberation Serif" font-size="100" font-weight="normal" font-style="normal" fill="#000" stroke="#000" stroke-width="1.2">1</text>
<text transform="matrix(0.25632 0 0 0.23182 512.39 785.10)" font-family="Liberation Serif" font-size="100" font-weight="normal" font-style="normal" fill="#000" stroke="#000" stroke-width="1.2">10</text>
<text transform="matrix(0.25985 0 0 0.22273 711.96 785.10)" font-family="Liberation Serif" font-size="100" font-weight="normal" font-style="normal" fill="#000" stroke="#000" stroke-width="1.2">100</text>
<text transform="matrix(0.25747 0 0 0.23333 28.08 578.90)" font-family="Liberation Serif" font-size="100" font-weight="normal" font-style="normal" fill="#000" stroke="#000" stroke-width="1.2">10</text>
<line x1="55.2" y1="568.3" x2="62.4" y2="568.3" stroke="#000" stroke-width="1.3"/>
<text transform="matrix(0.12871 0 0 0.13429 65.03 572.40)" font-family="Liberation Sans" font-size="100" font-weight="bold" font-style="normal" fill="#000">10</text>
<text transform="matrix(0.26111 0 0 0.23385 290.76 812.60)" font-family="Liberation Serif" font-size="100" font-weight="normal" font-style="normal" fill="#000" stroke="#000" stroke-width="1.6">Observed</text>
<text transform="matrix(0.27594 0 0 0.23385 402.10 812.60)" font-family="Liberation Serif" font-size="100" font-weight="normal" font-style="normal" fill="#000" stroke="#000" stroke-width="1.6">energy</text>
<text transform="matrix(0.21887 0 0 0.22769 488.74 812.80)" font-family="Liberation Serif" font-size="100" font-weight="normal" font-style="normal" fill="#000" stroke="#000" stroke-width="1.6">E</text>
<text transform="matrix(0.12941 0 0 0.12603 501.58 818.80)" font-family="Liberation Sans" font-size="100" font-weight="bold" font-style="normal" fill="#000">obs</text>
<text transform="matrix(0.26957 0 0 0.26220 534.51 813.29)" font-family="Liberation Serif" font-size="100" font-weight="normal" font-style="normal" fill="#000" stroke="#000" stroke-width="1.6">[</text>
<text transform="matrix(0.22134 0 0 0.23538 555.66 812.60)" font-family="Liberation Serif" font-size="100" font-weight="normal" font-style="normal" fill="#000" stroke="#000" stroke-width="1.6">keV</text>
<text transform="matrix(0.28182 0 0 0.26220 606.57 813.29)" font-family="Liberation Serif" font-size="100" font-weight="normal" font-style="normal" fill="#000" stroke="#000" stroke-width="1.6">]</text>
<text transform="matrix(0.22353 0 0 0.20725 763.08 721.70)" font-family="Liberation Serif" font-size="100" font-weight="bold" font-style="normal" fill="#000">b</text>
<text transform="matrix(0 -0.25952 0.23043 0 24.10 534.52)" font-family="Liberation Serif" font-size="100" font-weight="normal" font-style="italic" fill="#000" stroke="#000" stroke-width="1.5">ν</text>
<text transform="matrix(0 -0.17959 0.22462 0 24.10 521.44)" font-family="Liberation Serif" font-size="100" font-weight="normal" font-style="normal" fill="#000" stroke="#000" stroke-width="1.6">F</text>
<text transform="matrix(0 -0.18182 0.14348 0 29.60 507.88)" font-family="Liberation Serif" font-size="100" font-weight="bold" font-style="italic" fill="#000">ν</text>
<text transform="matrix(0 -0.25217 0.28537 0 25.49 486.07)" font-family="Liberation Serif" font-size="100" font-weight="normal" font-style="normal" fill="#000" stroke="#000" stroke-width="1.6">[</text>
<text transform="matrix(0 -0.26833 0.22462 0 24.10 465.67)" font-family="Liberation Serif" font-size="100" font-weight="normal" font-style="normal" fill="#000" stroke="#000" stroke-width="1.6">erg</text>
<text transform="matrix(0 -0.26581 0.22462 0 24.10 419.16)" font-family="Liberation Serif" font-size="100" font-weight="normal" font-style="normal" fill="#000" stroke="#000" stroke-width="1.6">cm</text>
<line x1="14.6" y1="383.3" x2="14.6" y2="377.5" stroke="#000" stroke-width="1.3" />
<text transform="matrix(0 -0.14898 0.13571 0 17.50 376.45)" font-family="Liberation Sans" font-size="100" font-weight="bold" font-style="normal" fill="#000">2</text>
<text transform="matrix(0 -0.26129 0.22462 0 24.10 357.35)" font-family="Liberation Serif" font-size="100" font-weight="normal" font-style="normal" fill="#000" stroke="#000" stroke-width="1.6">s</text>
<line x1="14.6" y1="343.9" x2="14.6" y2="338.3" stroke="#000" stroke-width="1.3" />
<text transform="matrix(0 -0.11702 0.13768 0 17.50 337.20)" font-family="Liberation Sans" font-size="100" font-weight="bold" font-style="normal" fill="#000">1</text>
<text transform="matrix(0 -0.26818 0.28537 0 25.49 316.47)" font-family="Liberation Serif" font-size="100" font-weight="normal" font-style="normal" fill="#000" stroke="#000" stroke-width="1.6">]</text>
<rect x="166.5" y="462.3" width="248.89999999999998" height="117.49999999999994" fill="#fff"/>
<clipPath id="ci"><rect x="166.5" y="462.3" width="248.89999999999998" height="117.49999999999994"/></clipPath>
<g clip-path="url(#ci)">
<rect x="177.4" y="533.6" width="2.3" height="6.8" fill="#ff8080"/>
<rect x="179.4" y="540.4" width="2.4" height="9.4" fill="#ff8080"/>
<rect x="181.6" y="540.4" width="2.6" height="12.8" fill="#ff8080"/>
<rect x="183.9" y="533.6" width="2.4" height="6.8" fill="#ff8080"/>
<rect x="186.0" y="540.4" width="2.5" height="15.3" fill="#ff8080"/>
<rect x="188.2" y="540.4" width="2.7" height="7.7" fill="#ff8080"/>
<rect x="190.6" y="532.7" width="2.4" height="7.7" fill="#ff8080"/>
<rect x="192.7" y="540.4" width="2.5" height="5.1" fill="#ff8080"/>
<rect x="195.0" y="540.4" width="2.7" height="11.9" fill="#ff8080"/>
<rect x="197.3" y="540.4" width="2.7" height="29.0" fill="#ff8080"/>
<rect x="199.7" y="540.4" width="2.8" height="6.0" fill="#ff8080"/>
<rect x="202.2" y="540.4" width="2.7" height="2.5" fill="#ff8080"/>
<rect x="204.6" y="540.4" width="2.7" height="3.4" fill="#ff8080"/>
<rect x="207.0" y="540.4" width="2.9" height="3.4" fill="#ff8080"/>
<rect x="209.5" y="540.4" width="2.9" height="1.7" fill="#ff8080"/>
<rect x="212.1" y="537.0" width="2.9" height="3.4" fill="#ff8080"/>
<rect x="214.7" y="540.4" width="2.9" height="0.8" fill="#ff8080"/>
<rect x="217.2" y="534.4" width="2.8" height="6.0" fill="#ff8080"/>
<rect x="219.7" y="540.4" width="2.9" height="24.2" fill="#ff8080"/>
<rect x="222.2" y="536.1" width="3.3" height="4.3" fill="#ff8080"/>
<rect x="225.2" y="540.4" width="3.5" height="6.5" fill="#ff8080"/>
<rect x="228.4" y="540.4" width="3.5" height="12.8" fill="#ff8080"/>
<rect x="231.6" y="538.3" width="3.9" height="2.1" fill="#ff8080"/>
<rect x="235.2" y="540.4" width="3.9" height="2.0" fill="#ff8080"/>
<rect x="238.8" y="514.5" width="4.0" height="25.9" fill="#ff8080"/>
<rect x="242.5" y="532.2" width="4.6" height="8.2" fill="#ff8080"/>
<rect x="246.8" y="522.5" width="5.7" height="17.9" fill="#ff8080"/>
<rect x="252.2" y="529.0" width="6.2" height="11.4" fill="#ff8080"/>
<rect x="258.1" y="523.3" width="6.2" height="17.1" fill="#ff8080"/>
<rect x="263.9" y="514.5" width="6.3" height="25.9" fill="#ff8080"/>
<rect x="269.9" y="531.0" width="6.4" height="9.4" fill="#ff8080"/>
<rect x="276.0" y="513.1" width="6.7" height="27.3" fill="#ff8080"/>
<rect x="282.4" y="505.8" width="6.9" height="34.6" fill="#ff8080"/>
<rect x="288.9" y="524.2" width="7.0" height="16.2" fill="#ff8080"/>
<rect x="295.7" y="519.9" width="7.2" height="20.5" fill="#ff8080"/>
<rect x="302.6" y="504.6" width="7.0" height="35.8" fill="#ff8080"/>
<rect x="309.3" y="521.6" width="6.7" height="18.8" fill="#ff8080"/>
<rect x="315.7" y="508.0" width="6.4" height="32.4" fill="#ff8080"/>
<rect x="321.8" y="494.7" width="6.1" height="45.7" fill="#ff8080"/>
<rect x="327.6" y="499.5" width="5.6" height="40.9" fill="#ff8080"/>
<rect x="332.9" y="499.5" width="5.4" height="40.9" fill="#ff8080"/>
<rect x="338.0" y="523.7" width="5.4" height="16.7" fill="#ff8080"/>
<rect x="343.2" y="486.3" width="5.3" height="54.1" fill="#ff8080"/>
<rect x="348.2" y="498.6" width="5.5" height="41.8" fill="#ff8080"/>
<rect x="353.4" y="536.1" width="6.0" height="4.3" fill="#ff8080"/>
<rect x="359.1" y="532.7" width="6.7" height="7.7" fill="#ff8080"/>
<rect x="365.5" y="540.4" width="7.5" height="1.7" fill="#ff8080"/>
<rect x="372.7" y="540.4" width="8.6" height="2.5" fill="#ff8080"/>
<rect x="381.0" y="540.4" width="10.4" height="17.9" fill="#ff8080"/>
<rect x="391.2" y="540.4" width="11.8" height="21.3" fill="#ff8080"/>
<line x1="178.4" y1="519.1" x2="178.4" y2="548.1" stroke="#ff0000" stroke-width="1.8" />
<line x1="177.4" y1="533.6" x2="179.4" y2="533.6" stroke="#ff0000" stroke-width="1.7" />
<line x1="180.5" y1="535.3" x2="180.5" y2="564.3" stroke="#ff0000" stroke-width="1.8" />
<line x1="179.4" y1="549.8" x2="181.6" y2="549.8" stroke="#ff0000" stroke-width="1.7" />
<line x1="182.7" y1="538.7" x2="182.7" y2="568.5" stroke="#ff0000" stroke-width="1.8" />
<line x1="181.6" y1="553.2" x2="183.9" y2="553.2" stroke="#ff0000" stroke-width="1.7" />
<line x1="185.1" y1="517.4" x2="185.1" y2="548.9" stroke="#ff0000" stroke-width="1.8" />
<line x1="183.9" y1="533.6" x2="186.0" y2="533.6" stroke="#ff0000" stroke-width="1.7" />
<line x1="186.9" y1="542.1" x2="186.9" y2="569.4" stroke="#ff0000" stroke-width="1.8" />
<line x1="186.0" y1="555.7" x2="188.2" y2="555.7" stroke="#ff0000" stroke-width="1.7" />
<line x1="189.5" y1="534.4" x2="189.5" y2="562.6" stroke="#ff0000" stroke-width="1.8" />
<line x1="188.2" y1="548.1" x2="190.6" y2="548.1" stroke="#ff0000" stroke-width="1.7" />
<line x1="191.7" y1="518.2" x2="191.7" y2="547.2" stroke="#ff0000" stroke-width="1.8" />
<line x1="190.6" y1="532.7" x2="192.7" y2="532.7" stroke="#ff0000" stroke-width="1.7" />
<line x1="193.8" y1="531.0" x2="193.8" y2="560.8" stroke="#ff0000" stroke-width="1.8" />
<line x1="192.7" y1="545.5" x2="195.0" y2="545.5" stroke="#ff0000" stroke-width="1.7" />
<line x1="196.2" y1="537.8" x2="196.2" y2="567.7" stroke="#ff0000" stroke-width="1.8" />
<line x1="195.0" y1="552.3" x2="197.3" y2="552.3" stroke="#ff0000" stroke-width="1.7" />
<line x1="198.5" y1="555.7" x2="198.5" y2="583.0" stroke="#ff0000" stroke-width="1.8" />
<line x1="197.3" y1="569.4" x2="199.7" y2="569.4" stroke="#ff0000" stroke-width="1.7" />
<line x1="200.9" y1="532.7" x2="200.9" y2="560.8" stroke="#ff0000" stroke-width="1.8" />
<line x1="199.7" y1="546.4" x2="202.2" y2="546.4" stroke="#ff0000" stroke-width="1.7" />
<line x1="203.5" y1="528.4" x2="203.5" y2="558.3" stroke="#ff0000" stroke-width="1.8" />
<line x1="202.2" y1="542.9" x2="204.6" y2="542.9" stroke="#ff0000" stroke-width="1.7" />
<line x1="205.7" y1="529.3" x2="205.7" y2="559.1" stroke="#ff0000" stroke-width="1.8" />
<line x1="204.6" y1="543.8" x2="207.0" y2="543.8" stroke="#ff0000" stroke-width="1.7" />
<line x1="208.3" y1="530.2" x2="208.3" y2="558.3" stroke="#ff0000" stroke-width="1.8" />
<line x1="207.0" y1="543.8" x2="209.5" y2="543.8" stroke="#ff0000" stroke-width="1.7" />
<line x1="210.8" y1="527.6" x2="210.8" y2="556.6" stroke="#ff0000" stroke-width="1.8" />
<line x1="209.5" y1="542.1" x2="212.1" y2="542.1" stroke="#ff0000" stroke-width="1.7" />
<line x1="213.4" y1="522.5" x2="213.4" y2="551.5" stroke="#ff0000" stroke-width="1.8" />
<line x1="212.1" y1="537.0" x2="214.7" y2="537.0" stroke="#ff0000" stroke-width="1.7" />
<line x1="215.9" y1="526.7" x2="215.9" y2="556.6" stroke="#ff0000" stroke-width="1.8" />
<line x1="214.7" y1="541.2" x2="217.2" y2="541.2" stroke="#ff0000" stroke-width="1.7" />
<line x1="218.5" y1="519.1" x2="218.5" y2="550.6" stroke="#ff0000" stroke-width="1.8" />
<line x1="217.2" y1="534.4" x2="219.7" y2="534.4" stroke="#ff0000" stroke-width="1.7" />
<line x1="220.9" y1="550.6" x2="220.9" y2="583.0" stroke="#ff0000" stroke-width="1.8" />
<line x1="219.7" y1="564.6" x2="222.2" y2="564.6" stroke="#ff0000" stroke-width="1.7" />
<line x1="223.6" y1="521.3" x2="223.6" y2="551.5" stroke="#ff0000" stroke-width="1.8" />
<line x1="222.2" y1="536.1" x2="225.2" y2="536.1" stroke="#ff0000" stroke-width="1.7" />
<line x1="226.8" y1="532.7" x2="226.8" y2="561.7" stroke="#ff0000" stroke-width="1.8" />
<line x1="225.2" y1="546.9" x2="228.4" y2="546.9" stroke="#ff0000" stroke-width="1.7" />
<line x1="229.9" y1="538.7" x2="229.9" y2="568.5" stroke="#ff0000" stroke-width="1.8" />
<line x1="228.4" y1="553.2" x2="231.6" y2="553.2" stroke="#ff0000" stroke-width="1.7" />
<line x1="233.3" y1="523.0" x2="233.3" y2="553.2" stroke="#ff0000" stroke-width="1.8" />
<line x1="231.6" y1="538.3" x2="235.2" y2="538.3" stroke="#ff0000" stroke-width="1.7" />
<line x1="237.1" y1="528.1" x2="237.1" y2="557.1" stroke="#ff0000" stroke-width="1.8" />
<line x1="235.2" y1="542.4" x2="238.8" y2="542.4" stroke="#ff0000" stroke-width="1.7" />
<line x1="240.5" y1="498.6" x2="240.5" y2="529.3" stroke="#ff0000" stroke-width="1.8" />
<line x1="238.8" y1="514.5" x2="242.5" y2="514.5" stroke="#ff0000" stroke-width="1.7" />
<line x1="244.4" y1="516.8" x2="244.4" y2="547.2" stroke="#ff0000" stroke-width="1.8" />
<line x1="242.5" y1="532.2" x2="246.8" y2="532.2" stroke="#ff0000" stroke-width="1.7" />
<line x1="249.2" y1="506.8" x2="249.2" y2="537.3" stroke="#ff0000" stroke-width="1.8" />
<line x1="246.8" y1="522.5" x2="252.2" y2="522.5" stroke="#ff0000" stroke-width="1.7" />
<line x1="255.2" y1="513.6" x2="255.2" y2="544.1" stroke="#ff0000" stroke-width="1.8" />
<line x1="252.2" y1="529.0" x2="258.1" y2="529.0" stroke="#ff0000" stroke-width="1.7" />
<line x1="261.0" y1="507.6" x2="261.0" y2="539.0" stroke="#ff0000" stroke-width="1.8" />
<line x1="258.1" y1="523.3" x2="263.9" y2="523.3" stroke="#ff0000" stroke-width="1.7" />
<line x1="266.9" y1="498.8" x2="266.9" y2="529.8" stroke="#ff0000" stroke-width="1.8" />
<line x1="263.9" y1="514.5" x2="269.9" y2="514.5" stroke="#ff0000" stroke-width="1.7" />
<line x1="272.9" y1="515.7" x2="272.9" y2="546.4" stroke="#ff0000" stroke-width="1.8" />
<line x1="269.9" y1="531.0" x2="276.0" y2="531.0" stroke="#ff0000" stroke-width="1.7" />
<line x1="279.0" y1="497.4" x2="279.0" y2="528.4" stroke="#ff0000" stroke-width="1.8" />
<line x1="276.0" y1="513.1" x2="282.4" y2="513.1" stroke="#ff0000" stroke-width="1.7" />
<line x1="285.7" y1="490.4" x2="285.7" y2="521.6" stroke="#ff0000" stroke-width="1.8" />
<line x1="282.4" y1="505.8" x2="288.9" y2="505.8" stroke="#ff0000" stroke-width="1.7" />
<line x1="292.2" y1="508.8" x2="292.2" y2="540.0" stroke="#ff0000" stroke-width="1.8" />
<line x1="288.9" y1="524.2" x2="295.7" y2="524.2" stroke="#ff0000" stroke-width="1.7" />
<line x1="299.2" y1="504.6" x2="299.2" y2="535.3" stroke="#ff0000" stroke-width="1.8" />
<line x1="295.7" y1="519.9" x2="302.6" y2="519.9" stroke="#ff0000" stroke-width="1.7" />
<line x1="306.0" y1="488.4" x2="306.0" y2="520.8" stroke="#ff0000" stroke-width="1.8" />
<line x1="302.6" y1="504.6" x2="309.3" y2="504.6" stroke="#ff0000" stroke-width="1.7" />
<line x1="312.6" y1="504.6" x2="312.6" y2="538.7" stroke="#ff0000" stroke-width="1.8" />
<line x1="309.3" y1="521.6" x2="315.7" y2="521.6" stroke="#ff0000" stroke-width="1.7" />
<line x1="318.8" y1="489.6" x2="318.8" y2="525.9" stroke="#ff0000" stroke-width="1.8" />
<line x1="315.7" y1="508.0" x2="321.8" y2="508.0" stroke="#ff0000" stroke-width="1.7" />
<line x1="324.9" y1="475.6" x2="324.9" y2="513.9" stroke="#ff0000" stroke-width="1.8" />
<line x1="321.8" y1="494.7" x2="327.6" y2="494.7" stroke="#ff0000" stroke-width="1.7" />
<line x1="330.4" y1="478.6" x2="330.4" y2="519.6" stroke="#ff0000" stroke-width="1.8" />
<line x1="327.6" y1="499.5" x2="332.9" y2="499.5" stroke="#ff0000" stroke-width="1.7" />
<line x1="335.5" y1="478.1" x2="335.5" y2="519.9" stroke="#ff0000" stroke-width="1.8" />
<line x1="332.9" y1="499.5" x2="338.0" y2="499.5" stroke="#ff0000" stroke-width="1.7" />
<line x1="340.6" y1="502.0" x2="340.6" y2="545.5" stroke="#ff0000" stroke-width="1.8" />
<line x1="338.0" y1="523.7" x2="343.2" y2="523.7" stroke="#ff0000" stroke-width="1.7" />
<line x1="345.7" y1="463.6" x2="345.7" y2="509.3" stroke="#ff0000" stroke-width="1.8" />
<line x1="343.2" y1="486.3" x2="348.2" y2="486.3" stroke="#ff0000" stroke-width="1.7" />
<line x1="350.7" y1="474.4" x2="350.7" y2="522.5" stroke="#ff0000" stroke-width="1.8" />
<line x1="348.2" y1="498.6" x2="353.4" y2="498.6" stroke="#ff0000" stroke-width="1.7" />
<line x1="356.1" y1="513.9" x2="356.1" y2="557.8" stroke="#ff0000" stroke-width="1.8" />
<line x1="353.4" y1="536.1" x2="359.1" y2="536.1" stroke="#ff0000" stroke-width="1.7" />
<line x1="362.1" y1="510.0" x2="362.1" y2="554.4" stroke="#ff0000" stroke-width="1.8" />
<line x1="359.1" y1="532.7" x2="365.5" y2="532.7" stroke="#ff0000" stroke-width="1.7" />
<line x1="368.9" y1="519.1" x2="368.9" y2="564.6" stroke="#ff0000" stroke-width="1.8" />
<line x1="365.5" y1="542.1" x2="372.7" y2="542.1" stroke="#ff0000" stroke-width="1.7" />
<line x1="376.6" y1="519.6" x2="376.6" y2="567.3" stroke="#ff0000" stroke-width="1.8" />
<line x1="372.7" y1="542.9" x2="381.0" y2="542.9" stroke="#ff0000" stroke-width="1.7" />
<line x1="385.4" y1="533.2" x2="385.4" y2="584.7" stroke="#ff0000" stroke-width="1.8" />
<line x1="381.0" y1="558.3" x2="391.2" y2="558.3" stroke="#ff0000" stroke-width="1.7" />
<line x1="396.9" y1="534.4" x2="396.9" y2="584.7" stroke="#ff0000" stroke-width="1.8" />
<line x1="391.2" y1="561.7" x2="402.7" y2="561.7" stroke="#ff0000" stroke-width="1.7" />
<line x1="341.4" y1="462.3" x2="341.4" y2="579.8" stroke="#000" stroke-width="1.8" stroke-dasharray="0.1 6.1" stroke-linecap="round" stroke-dashoffset="-3"/>
<line x1="350.5" y1="462.3" x2="350.5" y2="579.8" stroke="#000" stroke-width="1.8" stroke-dasharray="0.1 6.1" stroke-linecap="round" stroke-dashoffset="-3"/>
</g>
<rect x="166.5" y="462.3" width="248.89999999999998" height="117.49999999999994" fill="none" stroke="#000" stroke-width="1.7"/>
<line x1="216.3" y1="462.3" x2="216.3" y2="475.9" stroke="#000" stroke-width="1.6" />
<line x1="216.3" y1="579.8" x2="216.3" y2="566.2" stroke="#000" stroke-width="1.6" />
<line x1="259.9" y1="462.3" x2="259.9" y2="469.1" stroke="#000" stroke-width="1.6" />
<line x1="259.9" y1="579.8" x2="259.9" y2="573.0" stroke="#000" stroke-width="1.6" />
<line x1="290.8" y1="462.3" x2="290.8" y2="475.9" stroke="#000" stroke-width="1.6" />
<line x1="290.8" y1="579.8" x2="290.8" y2="566.2" stroke="#000" stroke-width="1.6" />
<line x1="314.8" y1="462.3" x2="314.8" y2="469.1" stroke="#000" stroke-width="1.6" />
<line x1="314.8" y1="579.8" x2="314.8" y2="573.0" stroke="#000" stroke-width="1.6" />
<line x1="334.4" y1="462.3" x2="334.4" y2="475.9" stroke="#000" stroke-width="1.6" />
<line x1="334.4" y1="579.8" x2="334.4" y2="566.2" stroke="#000" stroke-width="1.6" />
<line x1="351.0" y1="462.3" x2="351.0" y2="469.1" stroke="#000" stroke-width="1.6" />
<line x1="351.0" y1="579.8" x2="351.0" y2="573.0" stroke="#000" stroke-width="1.6" />
<line x1="365.4" y1="462.3" x2="365.4" y2="475.9" stroke="#000" stroke-width="1.6" />
<line x1="365.4" y1="579.8" x2="365.4" y2="566.2" stroke="#000" stroke-width="1.6" />
<line x1="378.0" y1="462.3" x2="378.0" y2="469.1" stroke="#000" stroke-width="1.6" />
<line x1="378.0" y1="579.8" x2="378.0" y2="573.0" stroke="#000" stroke-width="1.6" />
<line x1="389.4" y1="462.3" x2="389.4" y2="475.9" stroke="#000" stroke-width="1.6" />
<line x1="389.4" y1="579.8" x2="389.4" y2="566.2" stroke="#000" stroke-width="1.6" />
<line x1="166.5" y1="571.7" x2="173.2" y2="571.7" stroke="#000" stroke-width="1.6" />
<line x1="415.4" y1="571.7" x2="408.7" y2="571.7" stroke="#000" stroke-width="1.6" />
<line x1="166.5" y1="556.1" x2="173.2" y2="556.1" stroke="#000" stroke-width="1.6" />
<line x1="415.4" y1="556.1" x2="408.7" y2="556.1" stroke="#000" stroke-width="1.6" />
<line x1="166.5" y1="540.4" x2="180.1" y2="540.4" stroke="#000" stroke-width="1.6" />
<line x1="415.4" y1="540.4" x2="401.8" y2="540.4" stroke="#000" stroke-width="1.6" />
<line x1="166.5" y1="524.7" x2="173.2" y2="524.7" stroke="#000" stroke-width="1.6" />
<line x1="415.4" y1="524.7" x2="408.7" y2="524.7" stroke="#000" stroke-width="1.6" />
<line x1="166.5" y1="509.1" x2="173.2" y2="509.1" stroke="#000" stroke-width="1.6" />
<line x1="415.4" y1="509.1" x2="408.7" y2="509.1" stroke="#000" stroke-width="1.6" />
<line x1="166.5" y1="493.4" x2="173.2" y2="493.4" stroke="#000" stroke-width="1.6" />
<line x1="415.4" y1="493.4" x2="408.7" y2="493.4" stroke="#000" stroke-width="1.6" />
<line x1="166.5" y1="477.8" x2="173.2" y2="477.8" stroke="#000" stroke-width="1.6" />
<line x1="415.4" y1="477.8" x2="408.7" y2="477.8" stroke="#000" stroke-width="1.6" />
<text transform="matrix(0.24091 0 0 0.20606 122.53 469.60)" font-family="Liberation Serif" font-size="100" font-weight="normal" font-style="normal" fill="#000" stroke="#000" stroke-width="1.2">1.1</text>
<text transform="matrix(0.18571 0 0 0.20606 143.03 547.50)" font-family="Liberation Serif" font-size="100" font-weight="normal" font-style="normal" fill="#000" stroke="#000" stroke-width="1.2">1</text>
<text transform="matrix(0.26000 0 0 0.20462 209.76 605.40)" font-family="Liberation Serif" font-size="100" font-weight="normal" font-style="normal" fill="#000" stroke="#000" stroke-width="1.2">2</text>
<text transform="matrix(0.23261 0 0 0.20462 284.43 605.40)" font-family="Liberation Serif" font-size="100" font-weight="normal" font-style="normal" fill="#000" stroke="#000" stroke-width="1.2">4</text>
<text transform="matrix(0.25581 0 0 0.20462 327.78 605.40)" font-family="Liberation Serif" font-size="100" font-weight="normal" font-style="normal" fill="#000" stroke="#000" stroke-width="1.2">6</text>
<text transform="matrix(0.25476 0 0 0.20462 358.98 605.40)" font-family="Liberation Serif" font-size="100" font-weight="normal" font-style="normal" fill="#000" stroke="#000" stroke-width="1.2">8</text>
<text transform="matrix(0.24943 0 0 0.20152 377.16 605.40)" font-family="Liberation Serif" font-size="100" font-weight="normal" font-style="normal" fill="#000" stroke="#000" stroke-width="1.2">10</text>
<text transform="matrix(0 -0.25952 0.24154 0 130.20 548.78)" font-family="Liberation Serif" font-size="100" font-weight="normal" font-style="normal" fill="#000" stroke="#000" stroke-width="1.2">Ratio</text>
<text transform="matrix(0.21321 0 0 0.23385 226.46 634.20)" font-family="Liberation Serif" font-size="100" font-weight="normal" font-style="normal" fill="#000" stroke="#000" stroke-width="1.6">E</text>
<text transform="matrix(0.14743 0 0 0.14462 239.07 640.70)" font-family="Liberation Sans" font-size="100" font-weight="bold" font-style="normal" fill="#000">rest</text>
<text transform="matrix(0.25217 0 0 0.25366 276.43 634.50)" font-family="Liberation Serif" font-size="100" font-weight="normal" font-style="normal" fill="#000" stroke="#000" stroke-width="1.6">[</text>
<text transform="matrix(0.21159 0 0 0.22769 297.98 634.40)" font-family="Liberation Serif" font-size="100" font-weight="normal" font-style="normal" fill="#000" stroke="#000" stroke-width="1.6">keV</text>
<text transform="matrix(0.26364 0 0 0.25366 347.45 634.50)" font-family="Liberation Serif" font-size="100" font-weight="normal" font-style="normal" fill="#000" stroke="#000" stroke-width="1.6">]</text>
<text transform="matrix(0.27179 0 0 0.20000 377.98 496.90)" font-family="Liberation Serif" font-size="100" font-weight="bold" font-style="normal" fill="#000">c</text>
</svg></body></html>
